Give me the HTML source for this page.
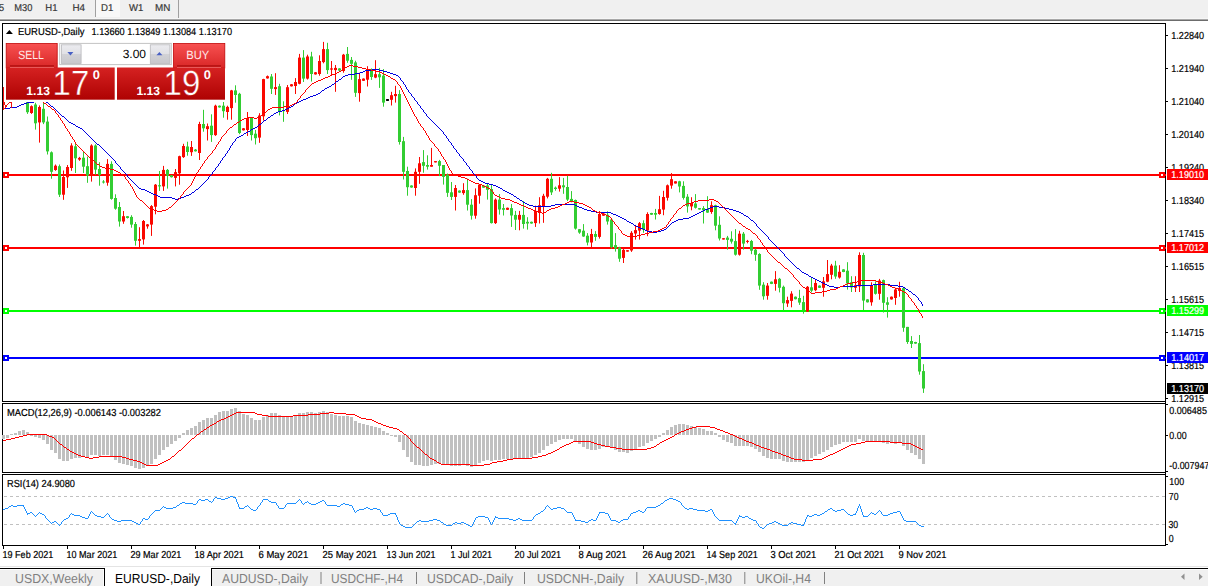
<!DOCTYPE html>
<html><head><meta charset="utf-8"><title>EURUSD-,Daily</title>
<style>
html,body{margin:0;padding:0;background:#fff}
body{width:1208px;height:586px;overflow:hidden;position:relative;font-family:"Liberation Sans",sans-serif}
svg{position:absolute;left:0;top:0;display:block}
text{font-family:"Liberation Sans",sans-serif;text-rendering:geometricPrecision}
</style></head><body>
<svg width="1208" height="586" viewBox="0 0 1208 586">
<defs>
<linearGradient id="gs" gradientUnits="userSpaceOnUse" x1="0" y1="43" x2="0" y2="67"><stop offset="0" stop-color="#f85252"/><stop offset="1" stop-color="#da2828"/></linearGradient>
<linearGradient id="gp" gradientUnits="userSpaceOnUse" x1="0" y1="67" x2="0" y2="100"><stop offset="0" stop-color="#d62222"/><stop offset="1" stop-color="#ae0202"/></linearGradient>
<linearGradient id="gb" x1="0" y1="0" x2="0" y2="1"><stop offset="0" stop-color="#ececf0"/><stop offset="0.5" stop-color="#e0e0e4"/><stop offset="0.5" stop-color="#d2d2d6"/><stop offset="1" stop-color="#c8c8cc"/></linearGradient>
<clipPath id="cm"><rect x="3" y="24" width="1162" height="377"/></clipPath>
</defs>

<rect x="0" y="0" width="1208" height="18" fill="#f0f0f0"/>
<rect x="0" y="18" width="1208" height="1" fill="#f6f6f6"/>
<rect x="0" y="19" width="1208" height="1" fill="#a8a8a8"/>
<rect x="0" y="20" width="1208" height="1" fill="#6c6c6c"/>
<rect x="96" y="0" width="24" height="17" fill="#f8f8f8"/>
<rect x="95" y="0" width="1" height="17" fill="#a0a0a0"/>
<rect x="178" y="0" width="1" height="18" fill="#a0a0a0"/>
<text x="-1.2" y="10.9" font-size="10" fill="#383838" textLength="5.4" lengthAdjust="spacingAndGlyphs" stroke="#383838" stroke-width="0.2" >5</text>
<text x="14.3" y="10.9" font-size="10" fill="#383838" textLength="18.099999999999998" lengthAdjust="spacingAndGlyphs" stroke="#383838" stroke-width="0.2" >M30</text>
<text x="45.3" y="10.9" font-size="10" fill="#383838" textLength="12.200000000000003" lengthAdjust="spacingAndGlyphs" stroke="#383838" stroke-width="0.2" >H1</text>
<text x="72.4" y="10.9" font-size="10" fill="#383838" textLength="12.599999999999994" lengthAdjust="spacingAndGlyphs" stroke="#383838" stroke-width="0.2" >H4</text>
<text x="101" y="10.9" font-size="10" fill="#383838" textLength="12.299999999999997" lengthAdjust="spacingAndGlyphs" stroke="#383838" stroke-width="0.2" >D1</text>
<text x="129" y="10.9" font-size="10" fill="#383838" textLength="14.300000000000011" lengthAdjust="spacingAndGlyphs" stroke="#383838" stroke-width="0.2" >W1</text>
<text x="155" y="10.9" font-size="10" fill="#383838" textLength="15.300000000000011" lengthAdjust="spacingAndGlyphs" stroke="#383838" stroke-width="0.2" >MN</text>
<rect x="2.5" y="23.5" width="1163" height="378" fill="#fff" stroke="#000" stroke-width="1"/>
<rect x="2.5" y="403.5" width="1163" height="69" fill="#fff" stroke="#000" stroke-width="1"/>
<rect x="2.5" y="474.5" width="1163" height="71" fill="#fff" stroke="#000" stroke-width="1"/>
<rect x="1165" y="23" width="1" height="523" fill="#000"/>
<rect x="1166" y="35" width="2" height="1" fill="#000"/>
<text x="1171.3" y="38.9" font-size="10.2" fill="#000" textLength="32.8" lengthAdjust="spacingAndGlyphs" stroke="#000" stroke-width="0.2" >1.22840</text>
<rect x="1166" y="68" width="2" height="1" fill="#000"/>
<text x="1171.3" y="71.9" font-size="10.2" fill="#000" textLength="32.8" lengthAdjust="spacingAndGlyphs" stroke="#000" stroke-width="0.2" >1.21940</text>
<rect x="1166" y="101" width="2" height="1" fill="#000"/>
<text x="1171.3" y="104.9" font-size="10.2" fill="#000" textLength="32.8" lengthAdjust="spacingAndGlyphs" stroke="#000" stroke-width="0.2" >1.21040</text>
<rect x="1166" y="134" width="2" height="1" fill="#000"/>
<text x="1171.3" y="137.9" font-size="10.2" fill="#000" textLength="32.8" lengthAdjust="spacingAndGlyphs" stroke="#000" stroke-width="0.2" >1.20140</text>
<rect x="1166" y="167" width="2" height="1" fill="#000"/>
<text x="1171.3" y="170.9" font-size="10.2" fill="#000" textLength="32.8" lengthAdjust="spacingAndGlyphs" stroke="#000" stroke-width="0.2" >1.19240</text>
<rect x="1166" y="200" width="2" height="1" fill="#000"/>
<text x="1171.3" y="203.9" font-size="10.2" fill="#000" textLength="32.8" lengthAdjust="spacingAndGlyphs" stroke="#000" stroke-width="0.2" >1.18340</text>
<rect x="1166" y="233" width="2" height="1" fill="#000"/>
<text x="1171.3" y="236.9" font-size="10.2" fill="#000" textLength="32.8" lengthAdjust="spacingAndGlyphs" stroke="#000" stroke-width="0.2" >1.17415</text>
<rect x="1166" y="266" width="2" height="1" fill="#000"/>
<text x="1171.3" y="269.9" font-size="10.2" fill="#000" textLength="32.8" lengthAdjust="spacingAndGlyphs" stroke="#000" stroke-width="0.2" >1.16515</text>
<rect x="1166" y="299" width="2" height="1" fill="#000"/>
<text x="1171.3" y="302.9" font-size="10.2" fill="#000" textLength="32.8" lengthAdjust="spacingAndGlyphs" stroke="#000" stroke-width="0.2" >1.15615</text>
<rect x="1166" y="332" width="2" height="1" fill="#000"/>
<text x="1171.3" y="335.9" font-size="10.2" fill="#000" textLength="32.8" lengthAdjust="spacingAndGlyphs" stroke="#000" stroke-width="0.2" >1.14715</text>
<rect x="1166" y="365" width="2" height="1" fill="#000"/>
<text x="1171.3" y="368.9" font-size="10.2" fill="#000" textLength="32.8" lengthAdjust="spacingAndGlyphs" stroke="#000" stroke-width="0.2" >1.13815</text>
<rect x="1166" y="398" width="2" height="1" fill="#000"/>
<text x="1171.3" y="401.9" font-size="10.2" fill="#000" textLength="32.8" lengthAdjust="spacingAndGlyphs" stroke="#000" stroke-width="0.2" >1.12915</text>
<rect x="1166" y="404" width="2" height="1" fill="#000"/>
<text x="1169.3" y="413.7" font-size="10.2" fill="#000" textLength="37.6" lengthAdjust="spacingAndGlyphs" stroke="#000" stroke-width="0.2" >0.006485</text>
<rect x="1166" y="435" width="2" height="1" fill="#000"/>
<text x="1169.3" y="438.8" font-size="10.2" fill="#000" textLength="17.3" lengthAdjust="spacingAndGlyphs" stroke="#000" stroke-width="0.2" >0.00</text>
<rect x="1166" y="471" width="2" height="1" fill="#000"/>
<text x="1169.3" y="469.3" font-size="10.2" fill="#000" textLength="40" lengthAdjust="spacingAndGlyphs" stroke="#000" stroke-width="0.2" >-0.007947</text>
<rect x="1166" y="476" width="2" height="1" fill="#000"/>
<text x="1169.3" y="484.9" font-size="10.2" fill="#000" textLength="14.8" lengthAdjust="spacingAndGlyphs" stroke="#000" stroke-width="0.2" >100</text>
<text x="1168.8" y="500.1" font-size="10.2" fill="#000" textLength="9.7" lengthAdjust="spacingAndGlyphs" stroke="#000" stroke-width="0.2" >70</text>
<text x="1168.4" y="528" font-size="10.2" fill="#000" textLength="9.7" lengthAdjust="spacingAndGlyphs" stroke="#000" stroke-width="0.2" >30</text>
<text x="1168.8" y="542" font-size="10.2" fill="#000" textLength="4.9" lengthAdjust="spacingAndGlyphs" stroke="#000" stroke-width="0.2" >0</text>
<rect x="1166" y="544" width="2" height="1" fill="#000"/>
<line x1="4" y1="496.5" x2="1165" y2="496.5" stroke="#c0c0c0" stroke-width="1" stroke-dasharray="3,3" shape-rendering="crispEdges"/>
<line x1="4" y1="524.5" x2="1165" y2="524.5" stroke="#c0c0c0" stroke-width="1" stroke-dasharray="3,3" shape-rendering="crispEdges"/>
<rect x="3" y="546" width="1" height="3" fill="#000"/>
<text x="2.5" y="557.9" font-size="10.2" fill="#000" textLength="50.8" lengthAdjust="spacingAndGlyphs" stroke="#000" stroke-width="0.2" >19 Feb 2021</text>
<rect x="67" y="546" width="1" height="3" fill="#000"/>
<text x="66.5" y="557.9" font-size="10.2" fill="#000" textLength="50.8" lengthAdjust="spacingAndGlyphs" stroke="#000" stroke-width="0.2" >10 Mar 2021</text>
<rect x="131" y="546" width="1" height="3" fill="#000"/>
<text x="130.5" y="557.9" font-size="10.2" fill="#000" textLength="50.8" lengthAdjust="spacingAndGlyphs" stroke="#000" stroke-width="0.2" >29 Mar 2021</text>
<rect x="195" y="546" width="1" height="3" fill="#000"/>
<text x="194.5" y="557.9" font-size="10.2" fill="#000" textLength="49.3" lengthAdjust="spacingAndGlyphs" stroke="#000" stroke-width="0.2" >18 Apr 2021</text>
<rect x="259" y="546" width="1" height="3" fill="#000"/>
<text x="258.5" y="557.9" font-size="10.2" fill="#000" textLength="49.7" lengthAdjust="spacingAndGlyphs" stroke="#000" stroke-width="0.2" >6 May 2021</text>
<rect x="323" y="546" width="1" height="3" fill="#000"/>
<text x="322.5" y="557.9" font-size="10.2" fill="#000" textLength="54.6" lengthAdjust="spacingAndGlyphs" stroke="#000" stroke-width="0.2" >25 May 2021</text>
<rect x="387" y="546" width="1" height="3" fill="#000"/>
<text x="386.5" y="557.9" font-size="10.2" fill="#000" textLength="49" lengthAdjust="spacingAndGlyphs" stroke="#000" stroke-width="0.2" >13 Jun 2021</text>
<rect x="451" y="546" width="1" height="3" fill="#000"/>
<text x="450.5" y="557.9" font-size="10.2" fill="#000" textLength="41.4" lengthAdjust="spacingAndGlyphs" stroke="#000" stroke-width="0.2" >1 Jul 2021</text>
<rect x="515" y="546" width="1" height="3" fill="#000"/>
<text x="514.5" y="557.9" font-size="10.2" fill="#000" textLength="46.4" lengthAdjust="spacingAndGlyphs" stroke="#000" stroke-width="0.2" >20 Jul 2021</text>
<rect x="579" y="546" width="1" height="3" fill="#000"/>
<text x="578.5" y="557.9" font-size="10.2" fill="#000" textLength="48" lengthAdjust="spacingAndGlyphs" stroke="#000" stroke-width="0.2" >8 Aug 2021</text>
<rect x="643" y="546" width="1" height="3" fill="#000"/>
<text x="642.5" y="557.9" font-size="10.2" fill="#000" textLength="53" lengthAdjust="spacingAndGlyphs" stroke="#000" stroke-width="0.2" >26 Aug 2021</text>
<rect x="707" y="546" width="1" height="3" fill="#000"/>
<text x="706.5" y="557.9" font-size="10.2" fill="#000" textLength="51.3" lengthAdjust="spacingAndGlyphs" stroke="#000" stroke-width="0.2" >14 Sep 2021</text>
<rect x="771" y="546" width="1" height="3" fill="#000"/>
<text x="770.5" y="557.9" font-size="10.2" fill="#000" textLength="45.7" lengthAdjust="spacingAndGlyphs" stroke="#000" stroke-width="0.2" >3 Oct 2021</text>
<rect x="835" y="546" width="1" height="3" fill="#000"/>
<text x="834.5" y="557.9" font-size="10.2" fill="#000" textLength="49.7" lengthAdjust="spacingAndGlyphs" stroke="#000" stroke-width="0.2" >21 Oct 2021</text>
<rect x="899" y="546" width="1" height="3" fill="#000"/>
<text x="898.5" y="557.9" font-size="10.2" fill="#000" textLength="48" lengthAdjust="spacingAndGlyphs" stroke="#000" stroke-width="0.2" >9 Nov 2021</text>
<rect x="3" y="174" width="1163" height="2" fill="#ff0000"/>
<rect x="3" y="172" width="6" height="6" fill="#ff0000"/><rect x="5" y="174" width="2" height="2" fill="#fff"/>
<rect x="1159" y="172" width="6" height="6" fill="#ff0000"/><rect x="1161" y="174" width="2" height="2" fill="#fff"/>
<rect x="1167" y="169" width="41" height="11" fill="#ff0000"/>
<text x="1171.3" y="177.9" font-size="10.2" fill="#fff" textLength="32.8" lengthAdjust="spacingAndGlyphs" stroke="#fff" stroke-width="0.2" >1.19010</text>
<rect x="3" y="247" width="1163" height="2" fill="#ff0000"/>
<rect x="3" y="245" width="6" height="6" fill="#ff0000"/><rect x="5" y="247" width="2" height="2" fill="#fff"/>
<rect x="1159" y="245" width="6" height="6" fill="#ff0000"/><rect x="1161" y="247" width="2" height="2" fill="#fff"/>
<rect x="1167" y="242" width="41" height="11" fill="#ff0000"/>
<text x="1171.3" y="250.9" font-size="10.2" fill="#fff" textLength="32.8" lengthAdjust="spacingAndGlyphs" stroke="#fff" stroke-width="0.2" >1.17012</text>
<rect x="3" y="310" width="1163" height="2" fill="#00ff00"/>
<rect x="3" y="308" width="6" height="6" fill="#00ff00"/><rect x="5" y="310" width="2" height="2" fill="#fff"/>
<rect x="1159" y="308" width="6" height="6" fill="#00ff00"/><rect x="1161" y="310" width="2" height="2" fill="#fff"/>
<rect x="1167" y="305" width="41" height="11" fill="#00ff00"/>
<text x="1171.3" y="313.9" font-size="10.2" fill="#fff" textLength="32.8" lengthAdjust="spacingAndGlyphs" stroke="#fff" stroke-width="0.2" >1.15299</text>
<rect x="3" y="357" width="1163" height="2" fill="#0000ff"/>
<rect x="3" y="355" width="6" height="6" fill="#0000ff"/><rect x="5" y="357" width="2" height="2" fill="#fff"/>
<rect x="1159" y="355" width="6" height="6" fill="#0000ff"/><rect x="1161" y="357" width="2" height="2" fill="#fff"/>
<rect x="1167" y="352" width="41" height="11" fill="#0000ff"/>
<text x="1171.3" y="360.9" font-size="10.2" fill="#fff" textLength="32.8" lengthAdjust="spacingAndGlyphs" stroke="#fff" stroke-width="0.2" >1.14017</text>
<g clip-path="url(#cm)">
<rect x="27.0" y="97.0" width="1" height="16.9" fill="#32cd32"/>
<rect x="26.0" y="98.0" width="3" height="14.2" fill="#32cd32"/>
<rect x="31.0" y="105.4" width="1" height="8.5" fill="#fa0800"/>
<rect x="30.0" y="106.2" width="3" height="6.8" fill="#fa0800"/>
<rect x="35.0" y="102.8" width="1" height="26.8" fill="#32cd32"/>
<rect x="34.0" y="104.5" width="3" height="18.8" fill="#32cd32"/>
<rect x="39.0" y="105.4" width="1" height="37.2" fill="#fa0800"/>
<rect x="38.0" y="107.0" width="3" height="15.4" fill="#fa0800"/>
<rect x="43.0" y="102.0" width="1" height="22.1" fill="#32cd32"/>
<rect x="42.0" y="108.8" width="3" height="13.6" fill="#32cd32"/>
<rect x="47.0" y="116.5" width="1" height="38.0" fill="#32cd32"/>
<rect x="46.0" y="121.6" width="3" height="29.8" fill="#32cd32"/>
<rect x="51.0" y="151.4" width="1" height="27.3" fill="#32cd32"/>
<rect x="50.0" y="152.3" width="3" height="19.5" fill="#32cd32"/>
<rect x="55.0" y="164.5" width="1" height="6.3" fill="#fa0800"/>
<rect x="54.0" y="165.7" width="3" height="4.3" fill="#fa0800"/>
<rect x="59.0" y="164.5" width="1" height="32.5" fill="#32cd32"/>
<rect x="58.0" y="166.2" width="3" height="28.5" fill="#32cd32"/>
<rect x="63.0" y="170.5" width="1" height="29.3" fill="#fa0800"/>
<rect x="62.0" y="177.0" width="3" height="17.7" fill="#fa0800"/>
<rect x="67.0" y="165.0" width="1" height="22.9" fill="#fa0800"/>
<rect x="66.0" y="167.0" width="3" height="10.3" fill="#fa0800"/>
<rect x="71.0" y="143.2" width="1" height="27.6" fill="#fa0800"/>
<rect x="70.0" y="145.5" width="3" height="22.5" fill="#fa0800"/>
<rect x="75.0" y="143.8" width="1" height="29.2" fill="#32cd32"/>
<rect x="74.0" y="146.3" width="3" height="12.0" fill="#32cd32"/>
<rect x="79.0" y="156.9" width="1" height="3.9" fill="#fa0800"/>
<rect x="78.0" y="157.9" width="3" height="1.7" fill="#fa0800"/>
<rect x="83.0" y="151.4" width="1" height="21.6" fill="#32cd32"/>
<rect x="82.0" y="157.7" width="3" height="9.0" fill="#32cd32"/>
<rect x="87.0" y="156.6" width="1" height="26.2" fill="#32cd32"/>
<rect x="86.0" y="166.2" width="3" height="9.4" fill="#32cd32"/>
<rect x="91.0" y="144.3" width="1" height="37.3" fill="#fa0800"/>
<rect x="90.0" y="145.5" width="3" height="30.1" fill="#fa0800"/>
<rect x="95.0" y="144.3" width="1" height="30.4" fill="#32cd32"/>
<rect x="94.0" y="145.5" width="3" height="24.1" fill="#32cd32"/>
<rect x="99.0" y="162.2" width="1" height="23.5" fill="#32cd32"/>
<rect x="98.0" y="169.0" width="3" height="6.0" fill="#32cd32"/>
<rect x="103.0" y="180.1" width="1" height="3.4" fill="#32cd32"/>
<rect x="102.0" y="181.5" width="3" height="1.0" fill="#32cd32"/>
<rect x="107.0" y="159.1" width="1" height="26.6" fill="#fa0800"/>
<rect x="106.0" y="163.9" width="3" height="18.8" fill="#fa0800"/>
<rect x="111.0" y="161.3" width="1" height="38.4" fill="#32cd32"/>
<rect x="110.0" y="163.9" width="3" height="35.0" fill="#32cd32"/>
<rect x="115.0" y="194.3" width="1" height="15.4" fill="#32cd32"/>
<rect x="114.0" y="198.0" width="3" height="10.7" fill="#32cd32"/>
<rect x="119.0" y="202.0" width="1" height="24.6" fill="#32cd32"/>
<rect x="118.0" y="207.0" width="3" height="14.5" fill="#32cd32"/>
<rect x="123.0" y="211.0" width="1" height="12.8" fill="#fa0800"/>
<rect x="122.0" y="216.2" width="3" height="5.3" fill="#fa0800"/>
<rect x="127.0" y="216.0" width="1" height="2.5" fill="#32cd32"/>
<rect x="126.0" y="216.2" width="3" height="1.8" fill="#32cd32"/>
<rect x="131.0" y="215.2" width="1" height="12.5" fill="#32cd32"/>
<rect x="130.0" y="216.9" width="3" height="7.7" fill="#32cd32"/>
<rect x="135.0" y="222.0" width="1" height="23.6" fill="#32cd32"/>
<rect x="134.0" y="224.0" width="3" height="16.8" fill="#32cd32"/>
<rect x="139.0" y="227.2" width="1" height="20.8" fill="#fa0800"/>
<rect x="138.0" y="239.1" width="3" height="1.7" fill="#fa0800"/>
<rect x="143.0" y="220.0" width="1" height="24.6" fill="#fa0800"/>
<rect x="142.0" y="221.0" width="3" height="18.4" fill="#fa0800"/>
<rect x="147.0" y="224.0" width="1" height="4.7" fill="#fa0800"/>
<rect x="146.0" y="224.4" width="3" height="2.0" fill="#fa0800"/>
<rect x="151.0" y="205.1" width="1" height="30.8" fill="#fa0800"/>
<rect x="150.0" y="206.1" width="3" height="18.5" fill="#fa0800"/>
<rect x="155.0" y="184.0" width="1" height="30.3" fill="#fa0800"/>
<rect x="154.0" y="184.7" width="3" height="22.0" fill="#fa0800"/>
<rect x="159.0" y="171.0" width="1" height="19.9" fill="#32cd32"/>
<rect x="158.0" y="185.2" width="3" height="1.2" fill="#32cd32"/>
<rect x="163.0" y="165.9" width="1" height="25.0" fill="#fa0800"/>
<rect x="162.0" y="169.9" width="3" height="16.5" fill="#fa0800"/>
<rect x="167.0" y="169.0" width="1" height="19.6" fill="#32cd32"/>
<rect x="166.0" y="169.9" width="3" height="5.9" fill="#32cd32"/>
<rect x="171.0" y="175.0" width="1" height="2.5" fill="#32cd32"/>
<rect x="170.0" y="175.3" width="3" height="1.9" fill="#32cd32"/>
<rect x="175.0" y="169.0" width="1" height="17.4" fill="#fa0800"/>
<rect x="174.0" y="172.1" width="3" height="5.8" fill="#fa0800"/>
<rect x="179.0" y="155.7" width="1" height="29.0" fill="#fa0800"/>
<rect x="178.0" y="156.2" width="3" height="17.1" fill="#fa0800"/>
<rect x="183.0" y="143.8" width="1" height="14.1" fill="#fa0800"/>
<rect x="182.0" y="146.0" width="3" height="11.1" fill="#fa0800"/>
<rect x="187.0" y="141.7" width="1" height="14.0" fill="#32cd32"/>
<rect x="186.0" y="146.5" width="3" height="5.5" fill="#32cd32"/>
<rect x="191.0" y="141.0" width="1" height="14.9" fill="#fa0800"/>
<rect x="190.0" y="147.0" width="3" height="5.2" fill="#fa0800"/>
<rect x="195.0" y="149.0" width="1" height="2.5" fill="#32cd32"/>
<rect x="194.0" y="149.6" width="3" height="1.7" fill="#32cd32"/>
<rect x="199.0" y="121.8" width="1" height="38.2" fill="#fa0800"/>
<rect x="198.0" y="124.0" width="3" height="29.0" fill="#fa0800"/>
<rect x="203.0" y="109.8" width="1" height="21.9" fill="#32cd32"/>
<rect x="202.0" y="124.0" width="3" height="4.3" fill="#32cd32"/>
<rect x="207.0" y="123.5" width="1" height="17.0" fill="#fa0800"/>
<rect x="206.0" y="126.2" width="3" height="2.9" fill="#fa0800"/>
<rect x="211.0" y="114.3" width="1" height="27.6" fill="#32cd32"/>
<rect x="210.0" y="125.7" width="3" height="9.4" fill="#32cd32"/>
<rect x="215.0" y="104.7" width="1" height="31.2" fill="#fa0800"/>
<rect x="214.0" y="105.7" width="3" height="29.4" fill="#fa0800"/>
<rect x="219.0" y="105.5" width="1" height="2.1" fill="#32cd32"/>
<rect x="218.0" y="105.7" width="3" height="1.7" fill="#32cd32"/>
<rect x="223.0" y="101.8" width="1" height="15.9" fill="#32cd32"/>
<rect x="222.0" y="105.7" width="3" height="5.5" fill="#32cd32"/>
<rect x="227.0" y="105.7" width="1" height="14.0" fill="#fa0800"/>
<rect x="226.0" y="106.9" width="3" height="5.1" fill="#fa0800"/>
<rect x="231.0" y="89.9" width="1" height="29.8" fill="#fa0800"/>
<rect x="230.0" y="90.4" width="3" height="17.7" fill="#fa0800"/>
<rect x="235.0" y="85.3" width="1" height="17.4" fill="#32cd32"/>
<rect x="234.0" y="90.4" width="3" height="4.6" fill="#32cd32"/>
<rect x="239.0" y="92.8" width="1" height="41.4" fill="#32cd32"/>
<rect x="238.0" y="93.8" width="3" height="39.2" fill="#32cd32"/>
<rect x="243.0" y="128.0" width="1" height="2.5" fill="#fa0800"/>
<rect x="242.0" y="128.3" width="3" height="2.0" fill="#fa0800"/>
<rect x="247.0" y="112.0" width="1" height="24.0" fill="#fa0800"/>
<rect x="246.0" y="118.0" width="3" height="12.0" fill="#fa0800"/>
<rect x="251.0" y="117.2" width="1" height="23.3" fill="#32cd32"/>
<rect x="250.0" y="117.7" width="3" height="17.4" fill="#32cd32"/>
<rect x="255.0" y="130.0" width="1" height="14.5" fill="#32cd32"/>
<rect x="254.0" y="133.7" width="3" height="4.5" fill="#32cd32"/>
<rect x="259.0" y="113.2" width="1" height="29.6" fill="#fa0800"/>
<rect x="258.0" y="115.5" width="3" height="22.1" fill="#fa0800"/>
<rect x="263.0" y="78.8" width="1" height="41.8" fill="#fa0800"/>
<rect x="262.0" y="79.1" width="3" height="37.2" fill="#fa0800"/>
<rect x="267.0" y="75.5" width="1" height="3.1" fill="#fa0800"/>
<rect x="266.0" y="76.2" width="3" height="2.2" fill="#fa0800"/>
<rect x="271.0" y="74.0" width="1" height="20.0" fill="#32cd32"/>
<rect x="270.0" y="76.5" width="3" height="12.3" fill="#32cd32"/>
<rect x="275.0" y="73.2" width="1" height="21.7" fill="#fa0800"/>
<rect x="274.0" y="87.1" width="3" height="2.0" fill="#fa0800"/>
<rect x="279.0" y="83.8" width="1" height="31.6" fill="#32cd32"/>
<rect x="278.0" y="86.2" width="3" height="25.7" fill="#32cd32"/>
<rect x="283.0" y="101.3" width="1" height="20.5" fill="#32cd32"/>
<rect x="282.0" y="110.2" width="3" height="1.0" fill="#32cd32"/>
<rect x="287.0" y="85.0" width="1" height="29.0" fill="#fa0800"/>
<rect x="286.0" y="87.2" width="3" height="24.7" fill="#fa0800"/>
<rect x="291.0" y="84.0" width="1" height="2.5" fill="#fa0800"/>
<rect x="290.0" y="84.3" width="3" height="2.0" fill="#fa0800"/>
<rect x="295.0" y="78.1" width="1" height="15.9" fill="#fa0800"/>
<rect x="294.0" y="82.0" width="3" height="4.0" fill="#fa0800"/>
<rect x="299.0" y="53.9" width="1" height="30.4" fill="#fa0800"/>
<rect x="298.0" y="57.6" width="3" height="26.2" fill="#fa0800"/>
<rect x="303.0" y="50.1" width="1" height="31.9" fill="#32cd32"/>
<rect x="302.0" y="57.6" width="3" height="21.0" fill="#32cd32"/>
<rect x="307.0" y="54.7" width="1" height="24.8" fill="#fa0800"/>
<rect x="306.0" y="56.5" width="3" height="22.1" fill="#fa0800"/>
<rect x="311.0" y="51.8" width="1" height="29.7" fill="#32cd32"/>
<rect x="310.0" y="56.5" width="3" height="17.5" fill="#32cd32"/>
<rect x="315.0" y="72.0" width="1" height="2.6" fill="#fa0800"/>
<rect x="314.0" y="72.3" width="3" height="2.1" fill="#fa0800"/>
<rect x="319.0" y="55.3" width="1" height="20.4" fill="#fa0800"/>
<rect x="318.0" y="61.0" width="3" height="13.0" fill="#fa0800"/>
<rect x="323.0" y="41.9" width="1" height="21.4" fill="#fa0800"/>
<rect x="322.0" y="49.1" width="3" height="13.0" fill="#fa0800"/>
<rect x="327.0" y="42.8" width="1" height="31.2" fill="#32cd32"/>
<rect x="326.0" y="49.1" width="3" height="21.0" fill="#32cd32"/>
<rect x="331.0" y="61.0" width="1" height="15.0" fill="#fa0800"/>
<rect x="330.0" y="68.4" width="3" height="1.2" fill="#fa0800"/>
<rect x="335.0" y="65.0" width="1" height="26.8" fill="#fa0800"/>
<rect x="334.0" y="67.9" width="3" height="2.2" fill="#fa0800"/>
<rect x="339.0" y="68.2" width="1" height="2.6" fill="#32cd32"/>
<rect x="338.0" y="68.4" width="3" height="2.2" fill="#32cd32"/>
<rect x="343.0" y="53.9" width="1" height="18.8" fill="#fa0800"/>
<rect x="342.0" y="54.7" width="3" height="16.3" fill="#fa0800"/>
<rect x="347.0" y="47.0" width="1" height="15.8" fill="#32cd32"/>
<rect x="346.0" y="53.9" width="3" height="6.8" fill="#32cd32"/>
<rect x="351.0" y="57.0" width="1" height="22.8" fill="#32cd32"/>
<rect x="350.0" y="59.9" width="3" height="3.9" fill="#32cd32"/>
<rect x="355.0" y="60.7" width="1" height="36.2" fill="#32cd32"/>
<rect x="354.0" y="62.4" width="3" height="30.4" fill="#32cd32"/>
<rect x="359.0" y="72.7" width="1" height="29.0" fill="#fa0800"/>
<rect x="358.0" y="79.1" width="3" height="14.0" fill="#fa0800"/>
<rect x="363.0" y="78.4" width="1" height="2.6" fill="#fa0800"/>
<rect x="362.0" y="78.6" width="3" height="2.2" fill="#fa0800"/>
<rect x="367.0" y="66.2" width="1" height="20.3" fill="#fa0800"/>
<rect x="366.0" y="70.1" width="3" height="9.6" fill="#fa0800"/>
<rect x="371.0" y="68.4" width="1" height="11.5" fill="#32cd32"/>
<rect x="370.0" y="70.1" width="3" height="6.9" fill="#32cd32"/>
<rect x="375.0" y="60.2" width="1" height="18.0" fill="#fa0800"/>
<rect x="374.0" y="74.2" width="3" height="3.4" fill="#fa0800"/>
<rect x="379.0" y="67.9" width="1" height="20.0" fill="#32cd32"/>
<rect x="378.0" y="74.2" width="3" height="3.1" fill="#32cd32"/>
<rect x="383.0" y="69.1" width="1" height="37.6" fill="#32cd32"/>
<rect x="382.0" y="75.6" width="3" height="27.0" fill="#32cd32"/>
<rect x="387.0" y="99.0" width="1" height="2.0" fill="#000"/>
<rect x="386.0" y="99.1" width="3" height="1.8" fill="#000"/>
<rect x="391.0" y="91.8" width="1" height="13.7" fill="#fa0800"/>
<rect x="390.0" y="95.2" width="3" height="4.6" fill="#fa0800"/>
<rect x="395.0" y="85.8" width="1" height="16.8" fill="#fa0800"/>
<rect x="394.0" y="94.0" width="3" height="2.1" fill="#fa0800"/>
<rect x="399.0" y="90.1" width="1" height="54.5" fill="#32cd32"/>
<rect x="398.0" y="94.0" width="3" height="48.0" fill="#32cd32"/>
<rect x="403.0" y="136.9" width="1" height="42.6" fill="#32cd32"/>
<rect x="402.0" y="141.2" width="3" height="30.6" fill="#32cd32"/>
<rect x="407.0" y="166.7" width="1" height="29.0" fill="#32cd32"/>
<rect x="406.0" y="171.0" width="3" height="16.2" fill="#32cd32"/>
<rect x="411.0" y="185.3" width="1" height="2.4" fill="#32cd32"/>
<rect x="410.0" y="185.5" width="3" height="2.0" fill="#32cd32"/>
<rect x="415.0" y="168.4" width="1" height="27.3" fill="#fa0800"/>
<rect x="414.0" y="171.8" width="3" height="16.2" fill="#fa0800"/>
<rect x="419.0" y="157.0" width="1" height="26.8" fill="#fa0800"/>
<rect x="418.0" y="163.3" width="3" height="8.5" fill="#fa0800"/>
<rect x="423.0" y="150.1" width="1" height="22.6" fill="#32cd32"/>
<rect x="422.0" y="162.1" width="3" height="3.7" fill="#32cd32"/>
<rect x="427.0" y="155.3" width="1" height="14.3" fill="#32cd32"/>
<rect x="426.0" y="165.0" width="3" height="1.7" fill="#32cd32"/>
<rect x="431.0" y="147.9" width="1" height="18.8" fill="#fa0800"/>
<rect x="430.0" y="165.0" width="3" height="1.7" fill="#fa0800"/>
<rect x="435.0" y="161.1" width="1" height="1.3" fill="#fa0800"/>
<rect x="434.0" y="161.1" width="3" height="1.3" fill="#fa0800"/>
<rect x="439.0" y="159.9" width="1" height="16.2" fill="#32cd32"/>
<rect x="438.0" y="161.1" width="3" height="4.7" fill="#32cd32"/>
<rect x="443.0" y="165.0" width="1" height="19.6" fill="#32cd32"/>
<rect x="442.0" y="165.0" width="3" height="11.9" fill="#32cd32"/>
<rect x="447.0" y="173.5" width="1" height="23.4" fill="#32cd32"/>
<rect x="446.0" y="174.7" width="3" height="18.1" fill="#32cd32"/>
<rect x="451.0" y="182.0" width="1" height="18.0" fill="#32cd32"/>
<rect x="450.0" y="192.3" width="3" height="4.6" fill="#32cd32"/>
<rect x="455.0" y="185.0" width="1" height="25.5" fill="#fa0800"/>
<rect x="454.0" y="188.0" width="3" height="8.9" fill="#fa0800"/>
<rect x="459.0" y="190.4" width="1" height="2.4" fill="#32cd32"/>
<rect x="458.0" y="190.6" width="3" height="2.0" fill="#32cd32"/>
<rect x="463.0" y="183.2" width="1" height="11.6" fill="#fa0800"/>
<rect x="462.0" y="190.1" width="3" height="3.0" fill="#fa0800"/>
<rect x="467.0" y="178.6" width="1" height="31.9" fill="#32cd32"/>
<rect x="466.0" y="190.1" width="3" height="14.6" fill="#32cd32"/>
<rect x="471.0" y="199.1" width="1" height="20.5" fill="#32cd32"/>
<rect x="470.0" y="204.7" width="3" height="11.0" fill="#32cd32"/>
<rect x="475.0" y="188.4" width="1" height="30.3" fill="#fa0800"/>
<rect x="474.0" y="195.2" width="3" height="20.5" fill="#fa0800"/>
<rect x="479.0" y="184.3" width="1" height="19.4" fill="#fa0800"/>
<rect x="478.0" y="184.6" width="3" height="11.1" fill="#fa0800"/>
<rect x="483.0" y="185.3" width="1" height="2.6" fill="#32cd32"/>
<rect x="482.0" y="185.5" width="3" height="2.2" fill="#32cd32"/>
<rect x="487.0" y="183.0" width="1" height="16.6" fill="#32cd32"/>
<rect x="486.0" y="185.5" width="3" height="4.3" fill="#32cd32"/>
<rect x="491.0" y="185.1" width="1" height="38.4" fill="#32cd32"/>
<rect x="490.0" y="189.0" width="3" height="34.1" fill="#32cd32"/>
<rect x="495.0" y="198.4" width="1" height="25.6" fill="#fa0800"/>
<rect x="494.0" y="199.6" width="3" height="23.5" fill="#fa0800"/>
<rect x="499.0" y="194.1" width="1" height="20.5" fill="#32cd32"/>
<rect x="498.0" y="199.6" width="3" height="9.9" fill="#32cd32"/>
<rect x="503.0" y="204.0" width="1" height="11.5" fill="#32cd32"/>
<rect x="502.0" y="208.1" width="3" height="1.7" fill="#32cd32"/>
<rect x="507.0" y="207.6" width="1" height="2.4" fill="#fa0800"/>
<rect x="506.0" y="207.8" width="3" height="2.0" fill="#fa0800"/>
<rect x="511.0" y="204.0" width="1" height="22.9" fill="#32cd32"/>
<rect x="510.0" y="208.1" width="3" height="7.4" fill="#32cd32"/>
<rect x="515.0" y="210.9" width="1" height="19.1" fill="#32cd32"/>
<rect x="514.0" y="214.9" width="3" height="4.8" fill="#32cd32"/>
<rect x="519.0" y="210.9" width="1" height="19.4" fill="#fa0800"/>
<rect x="518.0" y="214.9" width="3" height="4.8" fill="#fa0800"/>
<rect x="523.0" y="201.0" width="1" height="27.6" fill="#32cd32"/>
<rect x="522.0" y="214.9" width="3" height="9.1" fill="#32cd32"/>
<rect x="527.0" y="217.2" width="1" height="12.4" fill="#32cd32"/>
<rect x="526.0" y="221.8" width="3" height="1.7" fill="#32cd32"/>
<rect x="531.0" y="221.6" width="1" height="2.1" fill="#32cd32"/>
<rect x="530.0" y="221.8" width="3" height="1.7" fill="#32cd32"/>
<rect x="535.0" y="205.7" width="1" height="21.2" fill="#fa0800"/>
<rect x="534.0" y="210.9" width="3" height="12.2" fill="#fa0800"/>
<rect x="539.0" y="197.2" width="1" height="26.3" fill="#fa0800"/>
<rect x="538.0" y="205.2" width="3" height="6.8" fill="#fa0800"/>
<rect x="543.0" y="193.8" width="1" height="29.0" fill="#fa0800"/>
<rect x="542.0" y="195.8" width="3" height="11.1" fill="#fa0800"/>
<rect x="547.0" y="177.9" width="1" height="20.5" fill="#fa0800"/>
<rect x="546.0" y="178.8" width="3" height="17.9" fill="#fa0800"/>
<rect x="551.0" y="172.8" width="1" height="22.2" fill="#32cd32"/>
<rect x="550.0" y="178.8" width="3" height="13.6" fill="#32cd32"/>
<rect x="555.0" y="186.5" width="1" height="4.2" fill="#32cd32"/>
<rect x="554.0" y="187.6" width="3" height="1.4" fill="#32cd32"/>
<rect x="559.0" y="177.1" width="1" height="14.5" fill="#fa0800"/>
<rect x="558.0" y="185.3" width="3" height="3.4" fill="#fa0800"/>
<rect x="563.0" y="177.9" width="1" height="15.9" fill="#32cd32"/>
<rect x="562.0" y="185.3" width="3" height="2.0" fill="#32cd32"/>
<rect x="567.0" y="175.7" width="1" height="25.3" fill="#32cd32"/>
<rect x="566.0" y="187.0" width="3" height="12.6" fill="#32cd32"/>
<rect x="571.0" y="191.1" width="1" height="11.2" fill="#32cd32"/>
<rect x="570.0" y="198.9" width="3" height="2.1" fill="#32cd32"/>
<rect x="575.0" y="199.6" width="1" height="30.0" fill="#32cd32"/>
<rect x="574.0" y="200.0" width="3" height="28.6" fill="#32cd32"/>
<rect x="579.0" y="229.0" width="1" height="4.8" fill="#32cd32"/>
<rect x="578.0" y="229.2" width="3" height="3.4" fill="#32cd32"/>
<rect x="583.0" y="224.1" width="1" height="12.7" fill="#32cd32"/>
<rect x="582.0" y="230.7" width="3" height="5.8" fill="#32cd32"/>
<rect x="587.0" y="233.1" width="1" height="12.3" fill="#32cd32"/>
<rect x="586.0" y="235.7" width="3" height="6.8" fill="#32cd32"/>
<rect x="591.0" y="228.9" width="1" height="18.7" fill="#fa0800"/>
<rect x="590.0" y="234.0" width="3" height="8.5" fill="#fa0800"/>
<rect x="595.0" y="231.1" width="1" height="9.7" fill="#32cd32"/>
<rect x="594.0" y="234.0" width="3" height="2.9" fill="#32cd32"/>
<rect x="599.0" y="211.0" width="1" height="27.6" fill="#fa0800"/>
<rect x="598.0" y="214.0" width="3" height="22.9" fill="#fa0800"/>
<rect x="603.0" y="213.3" width="1" height="2.6" fill="#fa0800"/>
<rect x="602.0" y="213.5" width="3" height="2.2" fill="#fa0800"/>
<rect x="607.0" y="211.3" width="1" height="13.3" fill="#32cd32"/>
<rect x="606.0" y="214.7" width="3" height="6.8" fill="#32cd32"/>
<rect x="611.0" y="218.6" width="1" height="29.9" fill="#32cd32"/>
<rect x="610.0" y="219.5" width="3" height="27.6" fill="#32cd32"/>
<rect x="615.0" y="233.1" width="1" height="18.5" fill="#32cd32"/>
<rect x="614.0" y="245.1" width="3" height="3.4" fill="#32cd32"/>
<rect x="619.0" y="246.8" width="1" height="15.0" fill="#32cd32"/>
<rect x="618.0" y="247.6" width="3" height="11.1" fill="#32cd32"/>
<rect x="623.0" y="248.5" width="1" height="14.5" fill="#fa0800"/>
<rect x="622.0" y="249.9" width="3" height="8.0" fill="#fa0800"/>
<rect x="627.0" y="250.2" width="1" height="1.4" fill="#fa0800"/>
<rect x="626.0" y="250.2" width="3" height="1.4" fill="#fa0800"/>
<rect x="631.0" y="231.1" width="1" height="20.8" fill="#fa0800"/>
<rect x="630.0" y="232.8" width="3" height="17.7" fill="#fa0800"/>
<rect x="635.0" y="224.9" width="1" height="14.7" fill="#fa0800"/>
<rect x="634.0" y="230.1" width="3" height="3.4" fill="#fa0800"/>
<rect x="639.0" y="222.0" width="1" height="17.6" fill="#fa0800"/>
<rect x="638.0" y="223.2" width="3" height="7.4" fill="#fa0800"/>
<rect x="643.0" y="220.3" width="1" height="12.5" fill="#32cd32"/>
<rect x="642.0" y="223.2" width="3" height="6.5" fill="#32cd32"/>
<rect x="647.0" y="212.3" width="1" height="23.9" fill="#fa0800"/>
<rect x="646.0" y="214.0" width="3" height="16.6" fill="#fa0800"/>
<rect x="651.0" y="212.8" width="1" height="2.1" fill="#32cd32"/>
<rect x="650.0" y="213.0" width="3" height="1.7" fill="#32cd32"/>
<rect x="655.0" y="208.9" width="1" height="10.6" fill="#32cd32"/>
<rect x="654.0" y="213.0" width="3" height="1.7" fill="#32cd32"/>
<rect x="659.0" y="195.9" width="1" height="18.8" fill="#fa0800"/>
<rect x="658.0" y="209.2" width="3" height="4.8" fill="#fa0800"/>
<rect x="663.0" y="190.8" width="1" height="24.4" fill="#fa0800"/>
<rect x="662.0" y="197.0" width="3" height="12.6" fill="#fa0800"/>
<rect x="667.0" y="184.5" width="1" height="16.1" fill="#fa0800"/>
<rect x="666.0" y="185.3" width="3" height="12.5" fill="#fa0800"/>
<rect x="671.0" y="173.1" width="1" height="15.6" fill="#fa0800"/>
<rect x="670.0" y="179.2" width="3" height="6.4" fill="#fa0800"/>
<rect x="675.0" y="181.3" width="1" height="2.2" fill="#fa0800"/>
<rect x="674.0" y="181.3" width="3" height="2.2" fill="#fa0800"/>
<rect x="679.0" y="180.8" width="1" height="11.6" fill="#32cd32"/>
<rect x="678.0" y="181.3" width="3" height="5.2" fill="#32cd32"/>
<rect x="683.0" y="181.3" width="1" height="18.3" fill="#32cd32"/>
<rect x="682.0" y="185.9" width="3" height="12.0" fill="#32cd32"/>
<rect x="687.0" y="194.1" width="1" height="18.5" fill="#32cd32"/>
<rect x="686.0" y="196.7" width="3" height="9.7" fill="#32cd32"/>
<rect x="691.0" y="197.2" width="1" height="13.1" fill="#fa0800"/>
<rect x="690.0" y="203.0" width="3" height="3.4" fill="#fa0800"/>
<rect x="695.0" y="194.1" width="1" height="14.5" fill="#32cd32"/>
<rect x="694.0" y="203.5" width="3" height="4.3" fill="#32cd32"/>
<rect x="699.0" y="208.0" width="1" height="1.6" fill="#32cd32"/>
<rect x="698.0" y="208.1" width="3" height="1.4" fill="#32cd32"/>
<rect x="703.0" y="206.1" width="1" height="17.4" fill="#32cd32"/>
<rect x="702.0" y="208.1" width="3" height="2.2" fill="#32cd32"/>
<rect x="707.0" y="196.2" width="1" height="16.7" fill="#32cd32"/>
<rect x="706.0" y="209.1" width="3" height="3.5" fill="#32cd32"/>
<rect x="711.0" y="201.3" width="1" height="12.5" fill="#fa0800"/>
<rect x="710.0" y="205.2" width="3" height="6.8" fill="#fa0800"/>
<rect x="715.0" y="204.7" width="1" height="25.6" fill="#32cd32"/>
<rect x="714.0" y="205.2" width="3" height="20.5" fill="#32cd32"/>
<rect x="719.0" y="216.3" width="1" height="24.2" fill="#32cd32"/>
<rect x="718.0" y="224.8" width="3" height="13.7" fill="#32cd32"/>
<rect x="723.0" y="238.2" width="1" height="1.3" fill="#fa0800"/>
<rect x="722.0" y="238.2" width="3" height="1.3" fill="#fa0800"/>
<rect x="727.0" y="235.9" width="1" height="13.7" fill="#32cd32"/>
<rect x="726.0" y="237.6" width="3" height="2.3" fill="#32cd32"/>
<rect x="731.0" y="231.3" width="1" height="12.3" fill="#32cd32"/>
<rect x="730.0" y="238.8" width="3" height="2.8" fill="#32cd32"/>
<rect x="735.0" y="229.1" width="1" height="26.5" fill="#32cd32"/>
<rect x="734.0" y="241.1" width="3" height="13.6" fill="#32cd32"/>
<rect x="739.0" y="230.8" width="1" height="24.8" fill="#fa0800"/>
<rect x="738.0" y="233.7" width="3" height="21.0" fill="#fa0800"/>
<rect x="743.0" y="232.0" width="1" height="17.6" fill="#32cd32"/>
<rect x="742.0" y="233.7" width="3" height="9.9" fill="#32cd32"/>
<rect x="747.0" y="239.9" width="1" height="3.4" fill="#fa0800"/>
<rect x="746.0" y="240.9" width="3" height="1.0" fill="#fa0800"/>
<rect x="751.0" y="239.9" width="1" height="14.3" fill="#32cd32"/>
<rect x="750.0" y="241.0" width="3" height="9.7" fill="#32cd32"/>
<rect x="755.0" y="248.6" width="1" height="12.2" fill="#32cd32"/>
<rect x="754.0" y="249.7" width="3" height="5.1" fill="#32cd32"/>
<rect x="759.0" y="253.2" width="1" height="36.6" fill="#32cd32"/>
<rect x="758.0" y="254.0" width="3" height="31.6" fill="#32cd32"/>
<rect x="763.0" y="282.2" width="1" height="17.5" fill="#32cd32"/>
<rect x="762.0" y="284.7" width="3" height="11.6" fill="#32cd32"/>
<rect x="767.0" y="283.0" width="1" height="16.7" fill="#fa0800"/>
<rect x="766.0" y="285.6" width="3" height="10.2" fill="#fa0800"/>
<rect x="771.0" y="281.5" width="1" height="2.6" fill="#32cd32"/>
<rect x="770.0" y="281.7" width="3" height="2.2" fill="#32cd32"/>
<rect x="775.0" y="271.1" width="1" height="19.6" fill="#fa0800"/>
<rect x="774.0" y="279.3" width="3" height="4.6" fill="#fa0800"/>
<rect x="779.0" y="277.9" width="1" height="14.5" fill="#32cd32"/>
<rect x="778.0" y="278.8" width="3" height="9.0" fill="#32cd32"/>
<rect x="783.0" y="285.6" width="1" height="25.1" fill="#32cd32"/>
<rect x="782.0" y="286.8" width="3" height="16.4" fill="#32cd32"/>
<rect x="787.0" y="296.7" width="1" height="10.2" fill="#fa0800"/>
<rect x="786.0" y="300.1" width="3" height="3.4" fill="#fa0800"/>
<rect x="791.0" y="291.2" width="1" height="16.1" fill="#fa0800"/>
<rect x="790.0" y="293.6" width="3" height="7.3" fill="#fa0800"/>
<rect x="795.0" y="296.5" width="1" height="2.9" fill="#32cd32"/>
<rect x="794.0" y="296.7" width="3" height="2.5" fill="#32cd32"/>
<rect x="799.0" y="289.8" width="1" height="15.1" fill="#32cd32"/>
<rect x="798.0" y="298.0" width="3" height="4.6" fill="#32cd32"/>
<rect x="803.0" y="295.8" width="1" height="17.9" fill="#32cd32"/>
<rect x="802.0" y="302.1" width="3" height="7.9" fill="#32cd32"/>
<rect x="807.0" y="286.0" width="1" height="25.7" fill="#fa0800"/>
<rect x="806.0" y="286.8" width="3" height="24.9" fill="#fa0800"/>
<rect x="811.0" y="277.0" width="1" height="15.4" fill="#32cd32"/>
<rect x="810.0" y="287.3" width="3" height="3.4" fill="#32cd32"/>
<rect x="815.0" y="279.3" width="1" height="11.9" fill="#fa0800"/>
<rect x="814.0" y="283.0" width="3" height="7.2" fill="#fa0800"/>
<rect x="819.0" y="285.4" width="1" height="2.6" fill="#32cd32"/>
<rect x="818.0" y="285.6" width="3" height="2.2" fill="#32cd32"/>
<rect x="823.0" y="277.0" width="1" height="19.7" fill="#fa0800"/>
<rect x="822.0" y="281.3" width="3" height="6.5" fill="#fa0800"/>
<rect x="827.0" y="260.0" width="1" height="22.2" fill="#fa0800"/>
<rect x="826.0" y="274.1" width="3" height="7.6" fill="#fa0800"/>
<rect x="831.0" y="263.9" width="1" height="15.4" fill="#fa0800"/>
<rect x="830.0" y="265.6" width="3" height="9.2" fill="#fa0800"/>
<rect x="835.0" y="260.8" width="1" height="18.0" fill="#32cd32"/>
<rect x="834.0" y="265.6" width="3" height="10.9" fill="#32cd32"/>
<rect x="839.0" y="265.2" width="1" height="13.4" fill="#fa0800"/>
<rect x="838.0" y="271.8" width="3" height="5.7" fill="#fa0800"/>
<rect x="843.0" y="269.2" width="1" height="3.0" fill="#32cd32"/>
<rect x="842.0" y="269.4" width="3" height="2.6" fill="#32cd32"/>
<rect x="847.0" y="262.2" width="1" height="27.4" fill="#32cd32"/>
<rect x="846.0" y="270.7" width="3" height="12.8" fill="#32cd32"/>
<rect x="851.0" y="276.2" width="1" height="15.8" fill="#32cd32"/>
<rect x="850.0" y="282.3" width="3" height="5.1" fill="#32cd32"/>
<rect x="855.0" y="276.2" width="1" height="15.8" fill="#fa0800"/>
<rect x="854.0" y="285.2" width="3" height="2.6" fill="#fa0800"/>
<rect x="859.0" y="252.3" width="1" height="39.7" fill="#fa0800"/>
<rect x="858.0" y="255.0" width="3" height="31.4" fill="#fa0800"/>
<rect x="863.0" y="252.8" width="1" height="57.2" fill="#32cd32"/>
<rect x="862.0" y="255.0" width="3" height="45.6" fill="#32cd32"/>
<rect x="867.0" y="299.2" width="1" height="3.3" fill="#32cd32"/>
<rect x="866.0" y="299.4" width="3" height="2.9" fill="#32cd32"/>
<rect x="871.0" y="282.3" width="1" height="23.4" fill="#fa0800"/>
<rect x="870.0" y="285.2" width="3" height="17.1" fill="#fa0800"/>
<rect x="875.0" y="281.3" width="1" height="13.3" fill="#32cd32"/>
<rect x="874.0" y="284.7" width="3" height="9.1" fill="#32cd32"/>
<rect x="879.0" y="278.9" width="1" height="20.8" fill="#fa0800"/>
<rect x="878.0" y="280.6" width="3" height="13.2" fill="#fa0800"/>
<rect x="883.0" y="279.6" width="1" height="32.9" fill="#32cd32"/>
<rect x="882.0" y="280.1" width="3" height="22.7" fill="#32cd32"/>
<rect x="887.0" y="297.2" width="1" height="20.4" fill="#32cd32"/>
<rect x="886.0" y="302.3" width="3" height="2.5" fill="#32cd32"/>
<rect x="891.0" y="296.5" width="1" height="3.1" fill="#fa0800"/>
<rect x="890.0" y="296.7" width="3" height="2.7" fill="#fa0800"/>
<rect x="895.0" y="287.8" width="1" height="17.0" fill="#fa0800"/>
<rect x="894.0" y="289.5" width="3" height="8.5" fill="#fa0800"/>
<rect x="899.0" y="281.8" width="1" height="14.9" fill="#fa0800"/>
<rect x="898.0" y="288.1" width="3" height="2.8" fill="#fa0800"/>
<rect x="903.0" y="286.9" width="1" height="44.9" fill="#32cd32"/>
<rect x="902.0" y="288.1" width="3" height="39.7" fill="#32cd32"/>
<rect x="907.0" y="326.9" width="1" height="17.0" fill="#32cd32"/>
<rect x="906.0" y="326.9" width="3" height="15.1" fill="#32cd32"/>
<rect x="911.0" y="336.1" width="1" height="11.9" fill="#32cd32"/>
<rect x="910.0" y="341.0" width="3" height="2.9" fill="#32cd32"/>
<rect x="915.0" y="341.8" width="1" height="2.0" fill="#32cd32"/>
<rect x="914.0" y="342.0" width="3" height="1.6" fill="#32cd32"/>
<rect x="919.0" y="335.0" width="1" height="39.7" fill="#32cd32"/>
<rect x="918.0" y="343.1" width="3" height="28.4" fill="#32cd32"/>
<rect x="923.0" y="364.2" width="1" height="28.7" fill="#32cd32"/>
<rect x="922.0" y="371.1" width="3" height="17.4" fill="#32cd32"/>
<path fill="none" stroke="#0000e0" stroke-width="1" shape-rendering="crispEdges" transform="translate(0,0.5)" d="M372 69h7M365 70h7M379 70h4M363 71h2M383 71h4M360 72h3M387 72h3M355 73h5M390 73h3M348 74h7M393 74h3M345 75h3M396 75h2M343 76h2M398 76h1M342 77h1M399 77h1M341 78h1M400 78h1M339 79h2M400 79h1M338 80h1M401 80h1M336 81h2M402 81h1M335 82h1M403 82h1M334 83h1M403 83h1M332 84h2M404 84h1M331 85h1M405 85h1M329 86h2M405 86h1M327 87h2M406 87h1M325 88h2M406 88h1M324 89h1M407 89h1M322 90h2M408 90h1M321 91h1M408 91h1M320 92h1M409 92h1M318 93h2M410 93h1M316 94h2M411 94h1M313 95h3M411 95h1M310 96h3M412 96h1M308 97h2M413 97h1M38 98h2M306 98h2M414 98h1M37 99h1M40 99h2M303 99h3M414 99h1M35 100h2M42 100h2M301 100h2M415 100h1M34 101h1M44 101h2M299 101h2M416 101h1M27 102h7M46 102h2M297 102h2M417 102h1M24 103h3M48 103h1M295 103h2M417 103h1M21 104h3M49 104h1M294 104h1M418 104h1M19 105h2M50 105h1M293 105h1M419 105h1M17 106h2M51 106h2M291 106h2M420 106h1M10 107h7M53 107h1M289 107h2M420 107h1M3 108h7M54 108h1M287 108h2M421 108h1M55 109h1M285 109h2M422 109h1M56 110h1M282 110h3M423 110h1M57 111h1M278 111h4M423 111h1M58 112h1M276 112h2M424 112h1M59 113h1M274 113h2M425 113h1M60 114h1M273 114h1M426 114h1M61 115h1M271 115h2M426 115h1M62 116h2M270 116h1M427 116h1M64 117h1M268 117h2M428 117h1M65 118h1M267 118h1M429 118h1M66 119h1M266 119h1M430 119h1M67 120h1M264 120h2M431 120h1M68 121h1M263 121h1M432 121h1M69 122h2M262 122h1M433 122h1M71 123h2M261 123h1M434 123h1M73 124h2M259 124h2M435 124h1M75 125h1M258 125h1M436 125h1M76 126h2M257 126h1M437 126h1M78 127h2M255 127h2M438 127h1M80 128h2M253 128h2M439 128h1M82 129h1M251 129h2M440 129h1M83 130h1M250 130h1M441 130h1M84 131h1M248 131h2M442 131h1M85 132h1M246 132h2M443 132h1M86 133h1M244 133h2M443 133h1M87 134h1M243 134h1M444 134h1M88 135h1M241 135h2M445 135h1M89 136h1M239 136h2M446 136h1M90 137h1M237 137h2M446 137h1M91 138h1M236 138h1M447 138h1M92 139h1M235 139h1M448 139h1M93 140h1M235 140h1M448 140h1M94 141h1M234 141h1M449 141h1M95 142h1M233 142h1M450 142h1M96 143h1M232 143h1M451 143h1M97 144h2M232 144h1M451 144h1M99 145h1M231 145h1M452 145h1M100 146h1M230 146h1M453 146h1M101 147h1M230 147h1M453 147h1M102 148h1M229 148h1M454 148h1M103 149h1M229 149h1M455 149h1M104 150h1M228 150h1M456 150h1M105 151h1M227 151h1M456 151h1M106 152h1M227 152h1M457 152h1M107 153h1M226 153h1M458 153h1M108 154h1M225 154h1M459 154h1M109 155h1M225 155h1M459 155h1M110 156h1M224 156h1M460 156h1M111 157h1M223 157h1M461 157h1M112 158h1M222 158h1M462 158h1M113 159h1M222 159h1M463 159h1M114 160h1M221 160h1M463 160h1M115 161h1M220 161h1M464 161h1M115 162h1M220 162h1M465 162h1M116 163h1M219 163h1M466 163h1M117 164h1M218 164h1M466 164h1M118 165h1M218 165h1M467 165h1M119 166h1M217 166h1M468 166h1M120 167h1M216 167h1M469 167h1M120 168h1M215 168h1M469 168h1M121 169h1M215 169h1M470 169h1M122 170h1M214 170h1M471 170h1M123 171h1M213 171h1M472 171h1M124 172h1M212 172h1M472 172h1M125 173h1M212 173h1M473 173h1M126 174h1M211 174h1M474 174h1M127 175h1M210 175h1M475 175h1M127 176h1M209 176h1M476 176h1M128 177h1M208 177h1M476 177h1M129 178h1M208 178h1M477 178h1M130 179h1M207 179h1M478 179h1M131 180h1M206 180h1M479 180h2M132 181h1M205 181h1M481 181h2M133 182h1M204 182h1M483 182h2M134 183h1M203 183h1M485 183h4M135 184h1M202 184h1M489 184h4M136 185h1M201 185h1M493 185h3M137 186h1M200 186h1M496 186h2M138 187h1M199 187h1M498 187h2M139 188h2M198 188h1M500 188h2M141 189h4M196 189h2M502 189h1M145 190h2M195 190h1M503 190h2M147 191h2M194 191h1M505 191h2M149 192h2M192 192h2M507 192h2M151 193h2M191 193h1M509 193h2M153 194h3M189 194h2M511 194h2M156 195h2M186 195h3M513 195h1M158 196h2M184 196h2M514 196h2M160 197h12M181 197h3M516 197h1M172 198h3M178 198h3M517 198h2M175 199h3M519 199h1M520 200h2M522 201h1M523 202h2M525 203h2M527 204h2M555 204h20M529 205h4M551 205h4M575 205h2M533 206h18M577 206h2M713 206h6M579 207h3M710 207h3M719 207h6M582 208h2M708 208h2M725 208h4M584 209h3M705 209h3M729 209h4M587 210h4M703 210h2M733 210h3M591 211h5M701 211h2M736 211h3M596 212h15M699 212h2M739 212h2M611 213h2M697 213h2M741 213h2M613 214h3M695 214h2M743 214h1M616 215h2M693 215h2M744 215h2M618 216h2M691 216h2M746 216h2M620 217h2M689 217h2M748 217h1M622 218h2M683 218h6M749 218h1M624 219h2M678 219h5M750 219h1M626 220h1M676 220h2M751 220h2M627 221h2M674 221h2M753 221h1M629 222h2M672 222h2M754 222h1M631 223h2M671 223h1M755 223h1M633 224h1M670 224h1M756 224h1M634 225h2M669 225h1M756 225h1M636 226h2M668 226h1M757 226h1M638 227h2M667 227h1M758 227h1M640 228h3M666 228h1M759 228h1M643 229h2M664 229h2M760 229h1M645 230h2M661 230h3M761 230h1M647 231h5M657 231h4M762 231h1M652 232h5M763 232h1M764 233h1M765 234h1M766 235h1M767 236h1M768 237h1M768 238h1M769 239h1M770 240h1M771 241h1M772 242h1M773 243h1M774 244h1M775 245h1M776 246h1M777 247h1M778 248h1M779 249h1M780 250h1M781 251h1M782 252h1M783 253h1M784 254h1M784 255h1M785 256h1M786 257h1M787 258h1M788 259h1M789 260h1M790 261h1M791 262h1M792 263h1M793 264h1M794 265h1M795 266h1M796 267h1M797 268h2M799 269h1M800 270h1M801 271h1M802 272h2M804 273h2M806 274h2M808 275h1M809 276h2M811 277h2M813 278h2M815 279h2M817 280h2M819 281h2M821 282h2M823 283h2M825 284h2M873 284h17M827 285h2M856 285h17M890 285h8M829 286h5M840 286h16M898 286h5M834 287h6M903 287h2M905 288h1M906 289h2M908 290h1M909 291h2M911 292h1M912 293h1M913 294h2M915 295h1M916 296h1M917 297h1M918 298h1M918 299h1M919 300h1M920 301h1M921 302h1M921 303h1M922 304h1M922 305h1"/>
<path fill="none" stroke="#ff0000" stroke-width="1" shape-rendering="crispEdges" transform="translate(0,0.5)" d="M349 65h4M347 66h2M353 66h5M345 67h2M358 67h4M344 68h1M362 68h4M342 69h2M366 69h5M341 70h1M371 70h5M339 71h2M376 71h4M337 72h2M380 72h2M335 73h2M382 73h2M332 74h3M384 74h2M330 75h2M386 75h2M328 76h2M388 76h2M325 77h3M390 77h1M323 78h2M391 78h2M321 79h2M393 79h2M318 80h3M395 80h1M316 81h2M396 81h1M314 82h2M397 82h1M312 83h2M397 83h1M311 84h1M398 84h1M310 85h1M399 85h1M309 86h1M400 86h1M308 87h1M400 87h1M307 88h1M401 88h1M306 89h1M401 89h1M305 90h1M402 90h1M305 91h1M402 91h1M304 92h1M403 92h1M303 93h1M403 93h1M302 94h1M404 94h1M301 95h1M404 95h1M300 96h1M405 96h1M38 97h1M300 97h1M405 97h1M39 98h1M299 98h1M406 98h1M40 99h1M298 99h1M406 99h1M41 100h1M297 100h1M407 100h1M42 101h1M297 101h1M407 101h1M43 102h1M296 102h1M408 102h1M44 103h2M294 103h2M408 103h1M46 104h1M292 104h2M409 104h1M47 105h1M290 105h2M409 105h1M48 106h2M284 106h6M410 106h1M50 107h1M272 107h12M410 107h1M51 108h1M270 108h2M411 108h1M52 109h2M268 109h2M411 109h1M54 110h1M267 110h1M412 110h1M55 111h1M266 111h1M412 111h1M55 112h1M264 112h2M413 112h1M56 113h1M263 113h1M413 113h1M57 114h1M262 114h1M414 114h1M58 115h1M261 115h1M414 115h1M58 116h1M259 116h2M415 116h1M59 117h1M248 117h6M257 117h2M416 117h1M60 118h1M244 118h4M254 118h3M416 118h1M60 119h1M242 119h2M417 119h1M61 120h1M240 120h2M417 120h1M62 121h1M239 121h1M418 121h1M62 122h1M237 122h2M418 122h1M63 123h1M236 123h1M419 123h1M64 124h1M234 124h2M420 124h1M64 125h1M233 125h1M420 125h1M65 126h1M232 126h1M421 126h1M65 127h1M230 127h2M422 127h1M66 128h1M229 128h1M423 128h1M67 129h1M228 129h1M423 129h1M67 130h1M227 130h1M424 130h1M68 131h1M226 131h1M425 131h1M69 132h1M226 132h1M425 132h1M69 133h1M225 133h1M426 133h1M70 134h1M224 134h1M426 134h1M70 135h1M223 135h1M427 135h1M71 136h1M222 136h1M428 136h1M72 137h1M221 137h1M428 137h1M72 138h1M221 138h1M429 138h1M73 139h1M220 139h1M429 139h1M74 140h1M220 140h1M430 140h1M74 141h1M219 141h1M431 141h1M75 142h1M218 142h1M432 142h1M75 143h1M218 143h1M433 143h1M76 144h1M217 144h1M434 144h1M77 145h1M216 145h1M434 145h1M78 146h1M216 146h1M435 146h1M79 147h1M215 147h1M436 147h1M80 148h1M215 148h1M437 148h1M81 149h1M214 149h1M438 149h1M82 150h1M213 150h1M438 150h1M83 151h1M212 151h1M439 151h1M84 152h1M212 152h1M440 152h1M85 153h1M211 153h1M440 153h1M86 154h1M210 154h1M441 154h1M87 155h1M209 155h1M441 155h1M88 156h1M208 156h1M442 156h1M89 157h1M207 157h1M443 157h1M90 158h1M207 158h1M443 158h1M91 159h1M206 159h1M444 159h1M92 160h2M205 160h1M445 160h1M94 161h1M204 161h1M445 161h1M95 162h1M204 162h1M446 162h1M96 163h1M203 163h1M446 163h1M97 164h2M202 164h1M447 164h1M99 165h1M202 165h1M447 165h1M100 166h2M201 166h1M448 166h1M102 167h3M200 167h1M448 167h1M105 168h5M200 168h1M449 168h1M110 169h4M199 169h1M449 169h1M114 170h2M198 170h1M450 170h1M116 171h2M198 171h1M451 171h1M118 172h2M197 172h1M451 172h1M120 173h1M196 173h1M452 173h1M121 174h2M196 174h1M453 174h2M123 175h1M195 175h1M455 175h3M124 176h1M195 176h1M458 176h3M125 177h1M194 177h1M461 177h4M125 178h1M194 178h1M465 178h2M126 179h1M193 179h1M467 179h2M127 180h1M193 180h1M469 180h2M128 181h1M192 181h1M471 181h2M128 182h1M192 182h1M473 182h2M129 183h1M191 183h1M475 183h4M130 184h1M191 184h1M479 184h3M130 185h1M190 185h1M482 185h2M131 186h1M189 186h1M484 186h2M132 187h1M188 187h1M486 187h2M132 188h1M187 188h1M488 188h2M133 189h1M186 189h1M490 189h1M133 190h1M185 190h1M491 190h1M134 191h1M184 191h1M492 191h1M134 192h1M183 192h1M493 192h1M135 193h1M183 193h1M493 193h1M135 194h1M182 194h1M494 194h1M136 195h1M181 195h1M495 195h2M136 196h1M180 196h1M497 196h2M137 197h1M180 197h1M499 197h2M138 198h1M179 198h1M501 198h4M139 199h1M178 199h1M505 199h5M709 199h5M140 200h2M177 200h1M510 200h2M698 200h11M714 200h2M142 201h1M176 201h1M512 201h2M569 201h5M694 201h4M716 201h2M143 202h1M175 202h1M514 202h3M567 202h2M574 202h5M691 202h3M718 202h1M144 203h1M174 203h1M517 203h2M565 203h2M579 203h4M687 203h4M719 203h1M145 204h1M173 204h1M519 204h2M562 204h3M583 204h2M685 204h2M720 204h1M146 205h1M172 205h1M521 205h3M560 205h2M585 205h2M683 205h2M721 205h1M147 206h1M171 206h1M524 206h2M558 206h2M587 206h2M682 206h1M722 206h1M148 207h1M169 207h2M526 207h2M555 207h3M589 207h2M681 207h1M723 207h1M149 208h2M168 208h1M528 208h3M551 208h4M591 208h1M679 208h2M724 208h1M151 209h3M166 209h2M531 209h2M549 209h2M592 209h1M678 209h1M725 209h1M154 210h3M162 210h4M533 210h2M547 210h2M593 210h2M677 210h1M726 210h1M157 211h5M535 211h3M546 211h1M595 211h2M676 211h1M727 211h1M538 212h4M544 212h2M597 212h4M676 212h1M728 212h1M542 213h2M601 213h3M675 213h1M729 213h1M604 214h2M674 214h1M730 214h1M606 215h2M673 215h1M731 215h1M608 216h2M673 216h1M732 216h1M610 217h1M672 217h1M733 217h1M611 218h1M671 218h1M734 218h1M611 219h1M670 219h1M735 219h1M612 220h1M670 220h1M736 220h1M613 221h1M669 221h1M737 221h1M614 222h1M668 222h1M738 222h1M614 223h1M668 223h1M739 223h2M615 224h1M667 224h1M741 224h1M616 225h1M666 225h1M742 225h1M617 226h1M666 226h1M743 226h2M618 227h1M664 227h2M745 227h1M618 228h1M662 228h2M746 228h2M619 229h1M660 229h2M748 229h2M620 230h1M658 230h2M750 230h1M621 231h1M653 231h5M751 231h1M621 232h1M649 232h4M752 232h1M622 233h1M645 233h4M753 233h2M623 234h2M641 234h4M755 234h1M625 235h2M637 235h4M756 235h1M627 236h10M757 236h1M757 237h1M758 238h1M759 239h1M760 240h1M760 241h1M761 242h1M762 243h1M762 244h1M763 245h1M764 246h1M764 247h1M765 248h1M766 249h1M767 250h1M767 251h1M768 252h1M769 253h1M770 254h1M771 255h1M772 256h1M773 257h1M774 258h1M775 259h1M776 260h1M777 261h1M778 262h2M780 263h1M781 264h1M782 265h1M783 266h1M784 267h1M785 268h2M787 269h1M788 270h1M789 271h1M790 272h1M791 273h1M792 274h1M793 275h1M793 276h1M794 277h1M795 278h1M796 279h1M797 280h1M859 280h17M798 281h1M857 281h2M876 281h5M799 282h1M852 282h5M881 282h2M799 283h1M847 283h5M883 283h2M800 284h1M845 284h2M885 284h3M801 285h1M843 285h2M888 285h2M802 286h1M840 286h3M890 286h2M803 287h2M838 287h2M892 287h3M805 288h1M836 288h2M895 288h3M806 289h1M830 289h6M898 289h2M807 290h1M827 290h3M900 290h2M808 291h2M822 291h5M902 291h2M810 292h1M815 292h7M904 292h2M811 293h4M906 293h1M907 294h1M908 295h1M908 296h1M909 297h1M910 298h1M911 299h1M911 300h1M912 301h1M913 302h1M914 303h1M914 304h1M915 305h1M916 306h1M916 307h1M917 308h1M918 309h1M918 310h1M919 311h1M919 312h1M920 313h1M921 314h1M921 315h1M922 316h1M922 317h1"/>
<path fill="none" stroke="#f01010" stroke-width="1" shape-rendering="crispEdges" transform="translate(0,0.5)" d="M3 87h1M3 88h1M3 89h1M3 90h1M3 91h1M3 92h1M3 93h1M3 94h1M3 95h1M3 96h1M3 97h1M3 98h1M3 99h1M3 100h1M3 101h1M3 102h1M9 102h3M3 103h1M8 103h1M11 103h1M3 104h1M7 104h1M11 104h1M3 105h1M6 105h1M11 105h1M3 106h1M6 106h1M11 106h1M3 107h1M5 107h1M11 107h1M3 108h2M3 109h1"/>
<path fill="none" stroke="#f01010" stroke-width="1" shape-rendering="crispEdges" transform="translate(0,0.5)" d="M4 102h1M4 103h1M4 104h1M5 105h1M5 106h1M5 107h1"/>
</g>
<rect x="1167" y="383" width="41" height="11" fill="#000"/>
<text x="1171.3" y="391.9" font-size="10.2" fill="#fff" textLength="32.8" lengthAdjust="spacingAndGlyphs" stroke="#fff" stroke-width="0.2" >1.13170</text>
<rect x="2.0" y="435" width="3" height="4" fill="#c0c0c0"/>
<rect x="6.0" y="435" width="3" height="3" fill="#c0c0c0"/>
<rect x="10.0" y="434" width="3" height="1" fill="#c0c0c0"/>
<rect x="14.0" y="433" width="3" height="2" fill="#c0c0c0"/>
<rect x="18.0" y="431" width="3" height="4" fill="#c0c0c0"/>
<rect x="22.0" y="430" width="3" height="5" fill="#c0c0c0"/>
<rect x="26.0" y="432" width="3" height="3" fill="#c0c0c0"/>
<rect x="30.0" y="435" width="3" height="1" fill="#c0c0c0"/>
<rect x="34.0" y="435" width="3" height="2" fill="#c0c0c0"/>
<rect x="38.0" y="435" width="3" height="3" fill="#c0c0c0"/>
<rect x="42.0" y="435" width="3" height="5" fill="#c0c0c0"/>
<rect x="46.0" y="435" width="3" height="9" fill="#c0c0c0"/>
<rect x="50.0" y="435" width="3" height="15" fill="#c0c0c0"/>
<rect x="54.0" y="435" width="3" height="18" fill="#c0c0c0"/>
<rect x="58.0" y="435" width="3" height="24" fill="#c0c0c0"/>
<rect x="62.0" y="435" width="3" height="26" fill="#c0c0c0"/>
<rect x="66.0" y="435" width="3" height="26" fill="#c0c0c0"/>
<rect x="70.0" y="435" width="3" height="24" fill="#c0c0c0"/>
<rect x="74.0" y="435" width="3" height="23" fill="#c0c0c0"/>
<rect x="78.0" y="435" width="3" height="23" fill="#c0c0c0"/>
<rect x="82.0" y="435" width="3" height="22" fill="#c0c0c0"/>
<rect x="86.0" y="435" width="3" height="22" fill="#c0c0c0"/>
<rect x="90.0" y="435" width="3" height="20" fill="#c0c0c0"/>
<rect x="94.0" y="435" width="3" height="20" fill="#c0c0c0"/>
<rect x="98.0" y="435" width="3" height="21" fill="#c0c0c0"/>
<rect x="102.0" y="435" width="3" height="20" fill="#c0c0c0"/>
<rect x="106.0" y="435" width="3" height="20" fill="#c0c0c0"/>
<rect x="110.0" y="435" width="3" height="21" fill="#c0c0c0"/>
<rect x="114.0" y="435" width="3" height="25" fill="#c0c0c0"/>
<rect x="118.0" y="435" width="3" height="28" fill="#c0c0c0"/>
<rect x="122.0" y="435" width="3" height="29" fill="#c0c0c0"/>
<rect x="126.0" y="435" width="3" height="30" fill="#c0c0c0"/>
<rect x="130.0" y="435" width="3" height="31" fill="#c0c0c0"/>
<rect x="134.0" y="435" width="3" height="33" fill="#c0c0c0"/>
<rect x="138.0" y="435" width="3" height="34" fill="#c0c0c0"/>
<rect x="142.0" y="435" width="3" height="33" fill="#c0c0c0"/>
<rect x="146.0" y="435" width="3" height="31" fill="#c0c0c0"/>
<rect x="150.0" y="435" width="3" height="29" fill="#c0c0c0"/>
<rect x="154.0" y="435" width="3" height="24" fill="#c0c0c0"/>
<rect x="158.0" y="435" width="3" height="20" fill="#c0c0c0"/>
<rect x="162.0" y="435" width="3" height="15" fill="#c0c0c0"/>
<rect x="166.0" y="435" width="3" height="12" fill="#c0c0c0"/>
<rect x="170.0" y="435" width="3" height="9" fill="#c0c0c0"/>
<rect x="174.0" y="435" width="3" height="6" fill="#c0c0c0"/>
<rect x="178.0" y="435" width="3" height="3" fill="#c0c0c0"/>
<rect x="182.0" y="433" width="3" height="2" fill="#c0c0c0"/>
<rect x="186.0" y="430" width="3" height="5" fill="#c0c0c0"/>
<rect x="190.0" y="428" width="3" height="7" fill="#c0c0c0"/>
<rect x="194.0" y="426" width="3" height="9" fill="#c0c0c0"/>
<rect x="198.0" y="422" width="3" height="13" fill="#c0c0c0"/>
<rect x="202.0" y="420" width="3" height="15" fill="#c0c0c0"/>
<rect x="206.0" y="418" width="3" height="17" fill="#c0c0c0"/>
<rect x="210.0" y="418" width="3" height="17" fill="#c0c0c0"/>
<rect x="214.0" y="415" width="3" height="20" fill="#c0c0c0"/>
<rect x="218.0" y="412" width="3" height="23" fill="#c0c0c0"/>
<rect x="222.0" y="411" width="3" height="24" fill="#c0c0c0"/>
<rect x="226.0" y="411" width="3" height="24" fill="#c0c0c0"/>
<rect x="230.0" y="409" width="3" height="26" fill="#c0c0c0"/>
<rect x="234.0" y="408" width="3" height="27" fill="#c0c0c0"/>
<rect x="238.0" y="411" width="3" height="24" fill="#c0c0c0"/>
<rect x="242.0" y="414" width="3" height="21" fill="#c0c0c0"/>
<rect x="246.0" y="415" width="3" height="20" fill="#c0c0c0"/>
<rect x="250.0" y="418" width="3" height="17" fill="#c0c0c0"/>
<rect x="254.0" y="420" width="3" height="15" fill="#c0c0c0"/>
<rect x="258.0" y="420" width="3" height="15" fill="#c0c0c0"/>
<rect x="262.0" y="417" width="3" height="18" fill="#c0c0c0"/>
<rect x="266.0" y="415" width="3" height="20" fill="#c0c0c0"/>
<rect x="270.0" y="413" width="3" height="22" fill="#c0c0c0"/>
<rect x="274.0" y="413" width="3" height="22" fill="#c0c0c0"/>
<rect x="278.0" y="415" width="3" height="20" fill="#c0c0c0"/>
<rect x="282.0" y="416" width="3" height="19" fill="#c0c0c0"/>
<rect x="286.0" y="416" width="3" height="19" fill="#c0c0c0"/>
<rect x="290.0" y="416" width="3" height="19" fill="#c0c0c0"/>
<rect x="294.0" y="415" width="3" height="20" fill="#c0c0c0"/>
<rect x="298.0" y="413" width="3" height="22" fill="#c0c0c0"/>
<rect x="302.0" y="413" width="3" height="22" fill="#c0c0c0"/>
<rect x="306.0" y="412" width="3" height="23" fill="#c0c0c0"/>
<rect x="310.0" y="412" width="3" height="23" fill="#c0c0c0"/>
<rect x="314.0" y="413" width="3" height="22" fill="#c0c0c0"/>
<rect x="318.0" y="412" width="3" height="23" fill="#c0c0c0"/>
<rect x="322.0" y="411" width="3" height="24" fill="#c0c0c0"/>
<rect x="326.0" y="412" width="3" height="23" fill="#c0c0c0"/>
<rect x="330.0" y="414" width="3" height="21" fill="#c0c0c0"/>
<rect x="334.0" y="415" width="3" height="20" fill="#c0c0c0"/>
<rect x="338.0" y="416" width="3" height="19" fill="#c0c0c0"/>
<rect x="342.0" y="416" width="3" height="19" fill="#c0c0c0"/>
<rect x="346.0" y="416" width="3" height="19" fill="#c0c0c0"/>
<rect x="350.0" y="417" width="3" height="18" fill="#c0c0c0"/>
<rect x="354.0" y="421" width="3" height="14" fill="#c0c0c0"/>
<rect x="358.0" y="423" width="3" height="12" fill="#c0c0c0"/>
<rect x="362.0" y="424" width="3" height="11" fill="#c0c0c0"/>
<rect x="366.0" y="425" width="3" height="10" fill="#c0c0c0"/>
<rect x="370.0" y="426" width="3" height="9" fill="#c0c0c0"/>
<rect x="374.0" y="427" width="3" height="8" fill="#c0c0c0"/>
<rect x="378.0" y="428" width="3" height="7" fill="#c0c0c0"/>
<rect x="382.0" y="431" width="3" height="4" fill="#c0c0c0"/>
<rect x="386.0" y="433" width="3" height="2" fill="#c0c0c0"/>
<rect x="390.0" y="435" width="3" height="1" fill="#c0c0c0"/>
<rect x="394.0" y="435" width="3" height="2" fill="#c0c0c0"/>
<rect x="398.0" y="435" width="3" height="7" fill="#c0c0c0"/>
<rect x="402.0" y="435" width="3" height="15" fill="#c0c0c0"/>
<rect x="406.0" y="435" width="3" height="22" fill="#c0c0c0"/>
<rect x="410.0" y="435" width="3" height="27" fill="#c0c0c0"/>
<rect x="414.0" y="435" width="3" height="30" fill="#c0c0c0"/>
<rect x="418.0" y="435" width="3" height="30" fill="#c0c0c0"/>
<rect x="422.0" y="435" width="3" height="31" fill="#c0c0c0"/>
<rect x="426.0" y="435" width="3" height="31" fill="#c0c0c0"/>
<rect x="430.0" y="435" width="3" height="30" fill="#c0c0c0"/>
<rect x="434.0" y="435" width="3" height="29" fill="#c0c0c0"/>
<rect x="438.0" y="435" width="3" height="29" fill="#c0c0c0"/>
<rect x="442.0" y="435" width="3" height="30" fill="#c0c0c0"/>
<rect x="446.0" y="435" width="3" height="30" fill="#c0c0c0"/>
<rect x="450.0" y="435" width="3" height="31" fill="#c0c0c0"/>
<rect x="454.0" y="435" width="3" height="31" fill="#c0c0c0"/>
<rect x="458.0" y="435" width="3" height="31" fill="#c0c0c0"/>
<rect x="462.0" y="435" width="3" height="30" fill="#c0c0c0"/>
<rect x="466.0" y="435" width="3" height="31" fill="#c0c0c0"/>
<rect x="470.0" y="435" width="3" height="32" fill="#c0c0c0"/>
<rect x="474.0" y="435" width="3" height="30" fill="#c0c0c0"/>
<rect x="478.0" y="435" width="3" height="28" fill="#c0c0c0"/>
<rect x="482.0" y="435" width="3" height="26" fill="#c0c0c0"/>
<rect x="486.0" y="435" width="3" height="25" fill="#c0c0c0"/>
<rect x="490.0" y="435" width="3" height="26" fill="#c0c0c0"/>
<rect x="494.0" y="435" width="3" height="25" fill="#c0c0c0"/>
<rect x="498.0" y="435" width="3" height="25" fill="#c0c0c0"/>
<rect x="502.0" y="435" width="3" height="24" fill="#c0c0c0"/>
<rect x="506.0" y="435" width="3" height="24" fill="#c0c0c0"/>
<rect x="510.0" y="435" width="3" height="24" fill="#c0c0c0"/>
<rect x="514.0" y="435" width="3" height="24" fill="#c0c0c0"/>
<rect x="518.0" y="435" width="3" height="23" fill="#c0c0c0"/>
<rect x="522.0" y="435" width="3" height="23" fill="#c0c0c0"/>
<rect x="526.0" y="435" width="3" height="23" fill="#c0c0c0"/>
<rect x="530.0" y="435" width="3" height="22" fill="#c0c0c0"/>
<rect x="534.0" y="435" width="3" height="20" fill="#c0c0c0"/>
<rect x="538.0" y="435" width="3" height="18" fill="#c0c0c0"/>
<rect x="542.0" y="435" width="3" height="15" fill="#c0c0c0"/>
<rect x="546.0" y="435" width="3" height="11" fill="#c0c0c0"/>
<rect x="550.0" y="435" width="3" height="9" fill="#c0c0c0"/>
<rect x="554.0" y="435" width="3" height="7" fill="#c0c0c0"/>
<rect x="558.0" y="435" width="3" height="5" fill="#c0c0c0"/>
<rect x="562.0" y="435" width="3" height="4" fill="#c0c0c0"/>
<rect x="566.0" y="435" width="3" height="4" fill="#c0c0c0"/>
<rect x="570.0" y="435" width="3" height="4" fill="#c0c0c0"/>
<rect x="574.0" y="435" width="3" height="7" fill="#c0c0c0"/>
<rect x="578.0" y="435" width="3" height="9" fill="#c0c0c0"/>
<rect x="582.0" y="435" width="3" height="12" fill="#c0c0c0"/>
<rect x="586.0" y="435" width="3" height="14" fill="#c0c0c0"/>
<rect x="590.0" y="435" width="3" height="15" fill="#c0c0c0"/>
<rect x="594.0" y="435" width="3" height="15" fill="#c0c0c0"/>
<rect x="598.0" y="435" width="3" height="14" fill="#c0c0c0"/>
<rect x="602.0" y="435" width="3" height="12" fill="#c0c0c0"/>
<rect x="606.0" y="435" width="3" height="12" fill="#c0c0c0"/>
<rect x="610.0" y="435" width="3" height="13" fill="#c0c0c0"/>
<rect x="614.0" y="435" width="3" height="15" fill="#c0c0c0"/>
<rect x="618.0" y="435" width="3" height="17" fill="#c0c0c0"/>
<rect x="622.0" y="435" width="3" height="17" fill="#c0c0c0"/>
<rect x="626.0" y="435" width="3" height="18" fill="#c0c0c0"/>
<rect x="630.0" y="435" width="3" height="16" fill="#c0c0c0"/>
<rect x="634.0" y="435" width="3" height="14" fill="#c0c0c0"/>
<rect x="638.0" y="435" width="3" height="12" fill="#c0c0c0"/>
<rect x="642.0" y="435" width="3" height="11" fill="#c0c0c0"/>
<rect x="646.0" y="435" width="3" height="8" fill="#c0c0c0"/>
<rect x="650.0" y="435" width="3" height="6" fill="#c0c0c0"/>
<rect x="654.0" y="435" width="3" height="4" fill="#c0c0c0"/>
<rect x="658.0" y="435" width="3" height="2" fill="#c0c0c0"/>
<rect x="662.0" y="433" width="3" height="2" fill="#c0c0c0"/>
<rect x="666.0" y="430" width="3" height="5" fill="#c0c0c0"/>
<rect x="670.0" y="427" width="3" height="8" fill="#c0c0c0"/>
<rect x="674.0" y="425" width="3" height="10" fill="#c0c0c0"/>
<rect x="678.0" y="424" width="3" height="11" fill="#c0c0c0"/>
<rect x="682.0" y="424" width="3" height="11" fill="#c0c0c0"/>
<rect x="686.0" y="425" width="3" height="10" fill="#c0c0c0"/>
<rect x="690.0" y="426" width="3" height="9" fill="#c0c0c0"/>
<rect x="694.0" y="427" width="3" height="8" fill="#c0c0c0"/>
<rect x="698.0" y="428" width="3" height="7" fill="#c0c0c0"/>
<rect x="702.0" y="429" width="3" height="6" fill="#c0c0c0"/>
<rect x="706.0" y="431" width="3" height="4" fill="#c0c0c0"/>
<rect x="710.0" y="431" width="3" height="4" fill="#c0c0c0"/>
<rect x="714.0" y="433" width="3" height="2" fill="#c0c0c0"/>
<rect x="718.0" y="435" width="3" height="2" fill="#c0c0c0"/>
<rect x="722.0" y="435" width="3" height="5" fill="#c0c0c0"/>
<rect x="726.0" y="435" width="3" height="7" fill="#c0c0c0"/>
<rect x="730.0" y="435" width="3" height="8" fill="#c0c0c0"/>
<rect x="734.0" y="435" width="3" height="11" fill="#c0c0c0"/>
<rect x="738.0" y="435" width="3" height="11" fill="#c0c0c0"/>
<rect x="742.0" y="435" width="3" height="11" fill="#c0c0c0"/>
<rect x="746.0" y="435" width="3" height="11" fill="#c0c0c0"/>
<rect x="750.0" y="435" width="3" height="12" fill="#c0c0c0"/>
<rect x="754.0" y="435" width="3" height="14" fill="#c0c0c0"/>
<rect x="758.0" y="435" width="3" height="17" fill="#c0c0c0"/>
<rect x="762.0" y="435" width="3" height="21" fill="#c0c0c0"/>
<rect x="766.0" y="435" width="3" height="23" fill="#c0c0c0"/>
<rect x="770.0" y="435" width="3" height="24" fill="#c0c0c0"/>
<rect x="774.0" y="435" width="3" height="24" fill="#c0c0c0"/>
<rect x="778.0" y="435" width="3" height="24" fill="#c0c0c0"/>
<rect x="782.0" y="435" width="3" height="26" fill="#c0c0c0"/>
<rect x="786.0" y="435" width="3" height="27" fill="#c0c0c0"/>
<rect x="790.0" y="435" width="3" height="27" fill="#c0c0c0"/>
<rect x="794.0" y="435" width="3" height="27" fill="#c0c0c0"/>
<rect x="798.0" y="435" width="3" height="27" fill="#c0c0c0"/>
<rect x="802.0" y="435" width="3" height="27" fill="#c0c0c0"/>
<rect x="806.0" y="435" width="3" height="25" fill="#c0c0c0"/>
<rect x="810.0" y="435" width="3" height="23" fill="#c0c0c0"/>
<rect x="814.0" y="435" width="3" height="21" fill="#c0c0c0"/>
<rect x="818.0" y="435" width="3" height="19" fill="#c0c0c0"/>
<rect x="822.0" y="435" width="3" height="17" fill="#c0c0c0"/>
<rect x="826.0" y="435" width="3" height="15" fill="#c0c0c0"/>
<rect x="830.0" y="435" width="3" height="12" fill="#c0c0c0"/>
<rect x="834.0" y="435" width="3" height="10" fill="#c0c0c0"/>
<rect x="838.0" y="435" width="3" height="9" fill="#c0c0c0"/>
<rect x="842.0" y="435" width="3" height="7" fill="#c0c0c0"/>
<rect x="846.0" y="435" width="3" height="7" fill="#c0c0c0"/>
<rect x="850.0" y="435" width="3" height="7" fill="#c0c0c0"/>
<rect x="854.0" y="435" width="3" height="7" fill="#c0c0c0"/>
<rect x="858.0" y="435" width="3" height="4" fill="#c0c0c0"/>
<rect x="862.0" y="435" width="3" height="6" fill="#c0c0c0"/>
<rect x="866.0" y="435" width="3" height="7" fill="#c0c0c0"/>
<rect x="870.0" y="435" width="3" height="7" fill="#c0c0c0"/>
<rect x="874.0" y="435" width="3" height="7" fill="#c0c0c0"/>
<rect x="878.0" y="435" width="3" height="7" fill="#c0c0c0"/>
<rect x="882.0" y="435" width="3" height="8" fill="#c0c0c0"/>
<rect x="886.0" y="435" width="3" height="9" fill="#c0c0c0"/>
<rect x="890.0" y="435" width="3" height="8" fill="#c0c0c0"/>
<rect x="894.0" y="435" width="3" height="9" fill="#c0c0c0"/>
<rect x="898.0" y="435" width="3" height="8" fill="#c0c0c0"/>
<rect x="902.0" y="435" width="3" height="11" fill="#c0c0c0"/>
<rect x="906.0" y="435" width="3" height="15" fill="#c0c0c0"/>
<rect x="910.0" y="435" width="3" height="18" fill="#c0c0c0"/>
<rect x="914.0" y="435" width="3" height="20" fill="#c0c0c0"/>
<rect x="918.0" y="435" width="3" height="24" fill="#c0c0c0"/>
<rect x="922.0" y="435" width="3" height="29" fill="#c0c0c0"/>
<path fill="none" stroke="#ff0000" stroke-width="1" shape-rendering="crispEdges" transform="translate(0,0.5)" d="M236 412h19M329 412h5M234 413h2M255 413h2M320 413h9M334 413h12M232 414h2M257 414h5M308 414h12M346 414h9M230 415h2M262 415h6M293 415h15M355 415h2M228 416h2M268 416h25M357 416h2M226 417h2M359 417h2M224 418h2M361 418h5M221 419h3M366 419h6M219 420h2M372 420h2M217 421h2M374 421h2M216 422h1M376 422h2M214 423h2M378 423h3M212 424h2M381 424h2M210 425h2M383 425h3M209 426h1M386 426h3M696 426h14M207 427h2M389 427h4M692 427h4M710 427h5M206 428h1M393 428h4M689 428h3M715 428h2M204 429h2M397 429h2M686 429h3M717 429h3M203 430h1M399 430h1M684 430h2M720 430h3M201 431h2M400 431h2M681 431h3M723 431h2M200 432h1M402 432h1M679 432h2M725 432h3M199 433h1M403 433h1M677 433h2M728 433h2M27 434h20M197 434h2M404 434h2M675 434h2M730 434h3M23 435h4M47 435h2M196 435h1M406 435h1M674 435h1M733 435h2M19 436h4M49 436h3M195 436h1M407 436h1M672 436h2M735 436h2M15 437h4M52 437h2M194 437h1M408 437h1M670 437h2M737 437h2M11 438h4M54 438h1M192 438h2M409 438h1M668 438h2M739 438h3M6 439h5M55 439h1M191 439h1M410 439h1M666 439h2M742 439h2M3 440h3M56 440h1M190 440h1M410 440h1M664 440h2M744 440h2M57 441h1M189 441h1M411 441h1M573 441h18M662 441h2M746 441h3M865 441h25M58 442h1M188 442h1M412 442h1M571 442h2M591 442h3M660 442h2M749 442h3M861 442h4M890 442h12M59 443h1M187 443h1M413 443h1M569 443h2M594 443h3M659 443h1M752 443h2M856 443h5M902 443h9M60 444h2M186 444h1M414 444h1M566 444h3M597 444h4M657 444h2M754 444h2M851 444h5M911 444h2M62 445h1M185 445h1M415 445h1M564 445h2M601 445h4M656 445h1M756 445h3M849 445h2M913 445h2M63 446h1M184 446h1M416 446h1M562 446h2M605 446h5M654 446h2M759 446h2M847 446h2M915 446h2M64 447h2M183 447h1M417 447h2M560 447h2M610 447h6M651 447h3M761 447h3M845 447h2M917 447h2M66 448h1M182 448h1M419 448h1M559 448h1M616 448h6M647 448h4M764 448h3M843 448h2M919 448h2M67 449h2M181 449h1M420 449h1M557 449h2M622 449h25M767 449h3M841 449h2M921 449h2M69 450h1M179 450h2M421 450h1M555 450h2M770 450h2M839 450h2M70 451h2M178 451h1M422 451h1M553 451h2M772 451h3M837 451h2M72 452h2M177 452h1M423 452h1M551 452h2M775 452h3M835 452h2M74 453h2M176 453h1M424 453h1M548 453h3M778 453h3M833 453h2M76 454h2M175 454h1M425 454h2M546 454h2M781 454h2M830 454h3M78 455h3M174 455h1M427 455h1M542 455h4M783 455h3M828 455h2M81 456h4M99 456h23M172 456h2M428 456h1M538 456h4M786 456h3M826 456h2M85 457h4M93 457h6M122 457h4M171 457h1M429 457h1M532 457h6M789 457h2M824 457h2M89 458h4M126 458h3M170 458h1M430 458h2M513 458h19M791 458h3M822 458h2M129 459h4M168 459h2M432 459h2M507 459h6M794 459h8M813 459h9M133 460h4M166 460h2M434 460h2M503 460h4M802 460h11M137 461h3M164 461h2M436 461h1M497 461h6M140 462h2M162 462h2M437 462h2M492 462h5M142 463h2M160 463h2M439 463h2M490 463h2M144 464h2M158 464h2M441 464h29M484 464h6M146 465h12M470 465h14"/>
<path fill="none" stroke="#1e90ff" stroke-width="1" shape-rendering="crispEdges" transform="translate(0,0.5)" d="M230 496h3M215 497h2M228 497h2M233 497h3M214 498h1M217 498h4M225 498h3M235 498h1M669 498h4M199 499h2M205 499h3M213 499h1M221 499h4M236 499h1M263 499h5M299 499h1M667 499h2M673 499h3M198 500h1M201 500h4M208 500h1M213 500h1M236 500h1M262 500h1M268 500h1M298 500h1M300 500h1M322 500h2M665 500h2M676 500h2M197 501h1M209 501h2M212 501h1M236 501h1M262 501h1M269 501h2M297 501h1M301 501h1M307 501h1M320 501h2M324 501h1M664 501h1M678 501h2M182 502h3M197 502h1M211 502h1M237 502h1M261 502h1M271 502h5M296 502h1M301 502h1M305 502h2M308 502h1M318 502h2M325 502h1M663 502h1M680 502h1M180 503h2M185 503h8M196 503h1M237 503h1M260 503h1M276 503h1M287 503h9M302 503h1M304 503h1M309 503h2M316 503h2M325 503h1M343 503h2M661 503h2M681 503h1M179 504h1M193 504h3M238 504h1M260 504h1M276 504h1M286 504h1M303 504h1M311 504h5M326 504h1M341 504h2M345 504h4M660 504h1M681 504h1M859 504h1M11 505h2M17 505h7M177 505h2M238 505h1M247 505h1M259 505h1M277 505h1M285 505h1M327 505h10M340 505h1M349 505h3M547 505h1M658 505h2M682 505h1M859 505h1M9 506h2M13 506h4M23 506h1M163 506h1M176 506h1M238 506h1M245 506h2M248 506h1M258 506h1M278 506h1M285 506h1M337 506h3M352 506h1M546 506h1M548 506h1M656 506h2M683 506h1M858 506h1M860 506h1M8 507h1M24 507h1M162 507h1M164 507h2M173 507h3M239 507h1M244 507h1M249 507h1M257 507h1M278 507h1M284 507h1M352 507h1M366 507h2M545 507h1M549 507h1M557 507h4M647 507h9M684 507h1M858 507h1M860 507h1M5 508h3M24 508h1M161 508h1M166 508h7M239 508h5M250 508h1M257 508h1M279 508h5M353 508h1M364 508h2M368 508h2M373 508h4M545 508h1M550 508h1M553 508h4M561 508h3M646 508h1M685 508h2M689 508h4M830 508h2M857 508h1M860 508h1M3 509h2M25 509h1M160 509h1M251 509h2M256 509h1M353 509h1M359 509h5M370 509h3M377 509h3M544 509h1M551 509h2M564 509h1M645 509h1M687 509h2M693 509h4M710 509h2M828 509h2M832 509h1M841 509h3M857 509h1M861 509h1M25 510h1M155 510h5M253 510h3M354 510h1M357 510h2M380 510h1M543 510h1M565 510h1M638 510h2M645 510h1M697 510h8M708 510h2M712 510h1M827 510h1M833 510h2M837 510h4M844 510h1M857 510h1M861 510h1M879 510h1M26 511h1M91 511h1M154 511h1M354 511h1M356 511h1M380 511h1M541 511h2M566 511h1M636 511h2M640 511h2M644 511h1M705 511h3M712 511h1M825 511h2M835 511h2M845 511h1M856 511h1M861 511h1M878 511h1M880 511h1M897 511h3M26 512h1M30 512h2M39 512h1M90 512h1M92 512h1M153 512h1M355 512h1M381 512h1M540 512h1M567 512h5M599 512h6M633 512h3M642 512h2M713 512h1M824 512h1M846 512h1M856 512h1M862 512h1M871 512h1M877 512h1M881 512h1M893 512h4M900 512h1M27 513h3M32 513h1M38 513h1M40 513h2M71 513h1M90 513h1M93 513h1M107 513h1M152 513h1M382 513h1M390 513h6M538 513h2M572 513h1M599 513h1M605 513h3M631 513h2M713 513h1M822 513h2M847 513h1M855 513h1M862 513h1M870 513h1M872 513h2M876 513h1M881 513h1M890 513h3M900 513h1M27 514h1M33 514h1M37 514h1M42 514h2M70 514h1M72 514h2M89 514h1M94 514h1M106 514h1M108 514h1M151 514h1M382 514h1M388 514h2M395 514h1M536 514h2M572 514h1M598 514h1M608 514h1M630 514h1M714 514h1M814 514h3M820 514h2M848 514h2M853 514h3M862 514h1M869 514h1M874 514h2M882 514h1M888 514h2M901 514h1M34 515h1M36 515h1M44 515h1M69 515h1M74 515h6M89 515h1M95 515h2M105 515h1M109 515h1M150 515h1M383 515h5M396 515h1M535 515h1M573 515h1M598 515h1M608 515h1M630 515h1M714 515h1M739 515h1M807 515h2M812 515h2M817 515h3M850 515h3M863 515h1M868 515h1M883 515h5M901 515h1M35 516h1M45 516h1M69 516h1M80 516h2M88 516h1M97 516h4M104 516h1M109 516h1M149 516h1M396 516h1M478 516h7M495 516h1M534 516h1M573 516h1M597 516h1M609 516h1M629 516h1M715 516h1M739 516h3M745 516h3M807 516h1M809 516h3M863 516h5M902 516h1M45 517h1M68 517h1M82 517h3M88 517h1M101 517h3M110 517h1M149 517h1M397 517h1M476 517h2M485 517h3M495 517h3M533 517h1M574 517h1M597 517h1M609 517h1M628 517h1M716 517h1M738 517h1M742 517h3M748 517h1M806 517h1M902 517h1M46 518h1M66 518h2M85 518h3M111 518h1M143 518h2M148 518h1M397 518h1M475 518h1M488 518h1M494 518h1M498 518h11M518 518h2M533 518h1M574 518h1M596 518h1M610 518h1M628 518h1M717 518h1M738 518h1M749 518h2M806 518h1M903 518h1M47 519h1M64 519h2M112 519h2M142 519h1M145 519h3M397 519h1M433 519h4M475 519h1M488 519h1M494 519h1M509 519h4M516 519h2M520 519h2M532 519h1M575 519h1M591 519h2M596 519h1M610 519h1M623 519h5M718 519h1M737 519h1M751 519h2M805 519h1M903 519h1M48 520h1M63 520h1M114 520h3M121 520h11M142 520h1M398 520h1M419 520h2M429 520h4M437 520h3M474 520h1M489 520h1M493 520h1M513 520h3M522 520h10M575 520h6M589 520h2M593 520h3M611 520h5M621 520h2M719 520h13M737 520h1M753 520h3M805 520h1M904 520h2M49 521h1M54 521h2M62 521h1M117 521h4M132 521h2M141 521h1M398 521h1M417 521h2M421 521h8M440 521h1M474 521h1M489 521h1M493 521h1M581 521h4M588 521h1M616 521h2M620 521h1M732 521h1M736 521h1M756 521h1M774 521h2M805 521h1M906 521h10M50 522h1M52 522h2M56 522h1M61 522h1M134 522h2M140 522h1M399 522h1M416 522h1M441 522h2M455 522h2M461 522h3M473 522h1M490 522h1M492 522h1M585 522h3M618 522h2M733 522h1M736 522h1M756 522h1M772 522h2M776 522h2M791 522h2M804 522h1M916 522h1M51 523h1M57 523h1M61 523h1M136 523h2M140 523h1M399 523h1M415 523h1M443 523h1M453 523h2M457 523h4M464 523h2M473 523h1M490 523h1M492 523h1M734 523h2M757 523h1M769 523h3M778 523h2M789 523h2M793 523h4M804 523h1M917 523h1M58 524h1M60 524h1M138 524h2M400 524h1M414 524h1M444 524h2M452 524h1M466 524h2M472 524h1M491 524h1M735 524h1M758 524h1M767 524h2M780 524h2M788 524h1M797 524h4M803 524h1M918 524h1M59 525h1M401 525h2M413 525h1M446 525h6M468 525h2M472 525h1M758 525h1M766 525h1M782 525h6M801 525h3M919 525h2M403 526h2M412 526h1M470 526h2M759 526h1M765 526h1M921 526h3M405 527h7M760 527h2M764 527h1M762 528h2"/>
<path d="M5.9 34 L9.4 30.1 L12.9 34 Z" fill="#000"/>
<text x="18" y="35" font-size="10.2" fill="#000" textLength="66.5" lengthAdjust="spacingAndGlyphs" stroke="#000" stroke-width="0.2" >EURUSD-,Daily</text>
<text x="91.5" y="35" font-size="10.2" fill="#000" textLength="140.5" lengthAdjust="spacingAndGlyphs" stroke="#000" stroke-width="0.2" >1.13660 1.13849 1.13084 1.13170</text>
<text x="7" y="415.9" font-size="10.2" fill="#000" textLength="154" lengthAdjust="spacingAndGlyphs" stroke="#000" stroke-width="0.2" >MACD(12,26,9) -0.006143 -0.003282</text>
<text x="7" y="486.9" font-size="10.2" fill="#000" textLength="68" lengthAdjust="spacingAndGlyphs" stroke="#000" stroke-width="0.2" >RSI(14) 24.9080</text>
<rect x="4" y="38" width="223" height="64" fill="#fff"/>
<rect x="6.2" y="43.5" width="51" height="24.5" fill="url(#gs)" stroke="#c00808" stroke-width="0.8"/>
<rect x="173.5" y="43.5" width="51.3" height="24.5" fill="url(#gs)" stroke="#c00808" stroke-width="0.8"/>
<rect x="6" y="67.5" width="108.7" height="32.2" fill="url(#gp)"/>
<rect x="117" y="67.5" width="108" height="32.2" fill="url(#gp)"/>
<rect x="10" y="65.5" width="44" height="0.9" fill="#980000"/>
<rect x="10" y="67.2" width="44" height="0.8" fill="#ee6868"/>
<rect x="177" y="65.5" width="44" height="0.9" fill="#980000"/>
<rect x="177" y="67.2" width="44" height="0.8" fill="#ee6868"/>
<rect x="59.7" y="43.4" width="111.6" height="21.2" fill="#fff" stroke="#c4c4c4" stroke-width="1"/>
<rect x="61.5" y="44.8" width="19.6" height="18.6" fill="url(#gb)" stroke="#b8b8bc" stroke-width="0.8"/>
<rect x="150.3" y="44.8" width="19.6" height="18.6" fill="url(#gb)" stroke="#b8b8bc" stroke-width="0.8"/>
<path d="M67.4 52.1 L73.4 52.1 L70.4 55.4 Z" fill="#4860c4"/>
<path d="M156.4 55.2 L162.4 55.2 L159.4 51.9 Z" fill="#4860c4"/>
<text x="146" y="58" font-size="12" fill="#000" text-anchor="end" >3.00</text>
<text x="18.2" y="58.9" font-size="12" fill="#ffeaea" textLength="25.7" lengthAdjust="spacingAndGlyphs" >SELL</text>
<text x="186.2" y="58.9" font-size="12" fill="#ffeaea" textLength="23" lengthAdjust="spacingAndGlyphs" >BUY</text>
<text x="26.3" y="94.6" font-size="12" fill="#fff" textLength="23.6" lengthAdjust="spacingAndGlyphs" font-weight="bold" >1.13</text>
<text x="136.4" y="94.6" font-size="12" fill="#fff" textLength="23.6" lengthAdjust="spacingAndGlyphs" font-weight="bold" >1.13</text>
<text x="52.6" y="94.9" font-size="35" fill="#fff" textLength="36.6" lengthAdjust="spacingAndGlyphs" stroke="url(#gp)" stroke-width="0.4">17</text>
<text x="163.6" y="94.9" font-size="35" fill="#fff" textLength="36.6" lengthAdjust="spacingAndGlyphs" stroke="url(#gp)" stroke-width="0.4">19</text>
<text x="92.8" y="79.2" font-size="12.5" fill="#fff" textLength="7.2" lengthAdjust="spacingAndGlyphs" font-weight="bold" >0</text>
<text x="203.8" y="79.2" font-size="12.5" fill="#fff" textLength="7.2" lengthAdjust="spacingAndGlyphs" font-weight="bold" >0</text>
<rect x="0" y="566" width="1208" height="1" fill="#e4e4e4"/>
<rect x="0" y="568" width="1208" height="18" fill="#f0f0f0"/>
<rect x="0" y="568" width="1208" height="1" fill="#000"/>
<rect x="0" y="569" width="1208" height="1" fill="#fcfcfc"/>
<rect x="103" y="569" width="1" height="17" fill="#fcfcfc"/>
<rect x="105" y="567" width="106" height="19" fill="#fff"/>
<rect x="104" y="568" width="1" height="18" fill="#000"/>
<rect x="211" y="568" width="1" height="18" fill="#000"/>
<text x="15" y="583" font-size="13" fill="#808080" textLength="78" lengthAdjust="spacingAndGlyphs" >USDX,Weekly</text>
<text x="115" y="583" font-size="13" fill="#000" textLength="85" lengthAdjust="spacingAndGlyphs" >EURUSD-,Daily</text>
<text x="222" y="583" font-size="13" fill="#808080" textLength="86" lengthAdjust="spacingAndGlyphs" >AUDUSD-,Daily</text>
<text x="331" y="583" font-size="13" fill="#808080" textLength="72" lengthAdjust="spacingAndGlyphs" >USDCHF-,H4</text>
<text x="427" y="583" font-size="13" fill="#808080" textLength="86" lengthAdjust="spacingAndGlyphs" >USDCAD-,Daily</text>
<text x="537" y="583" font-size="13" fill="#808080" textLength="87" lengthAdjust="spacingAndGlyphs" >USDCNH-,Daily</text>
<text x="648" y="583" font-size="13" fill="#808080" textLength="84" lengthAdjust="spacingAndGlyphs" >XAUUSD-,M30</text>
<text x="756" y="583" font-size="13" fill="#808080" textLength="55" lengthAdjust="spacingAndGlyphs" >UKOil-,H4</text>
<rect x="320.5" y="572" width="1" height="12" fill="#808080"/>
<rect x="416" y="572" width="1" height="12" fill="#808080"/>
<rect x="524" y="572" width="1" height="12" fill="#808080"/>
<rect x="636.3" y="572" width="1" height="12" fill="#808080"/>
<rect x="744.3" y="572" width="1" height="12" fill="#808080"/>
<rect x="824" y="572" width="1" height="12" fill="#808080"/>
<path d="M1184.5 573.5 L1184.5 580 L1181 576.7 Z" fill="#909090"/>
<path d="M1199 573.5 L1199 580 L1202.7 576.7 Z" fill="#909090"/>
</svg></body></html>
